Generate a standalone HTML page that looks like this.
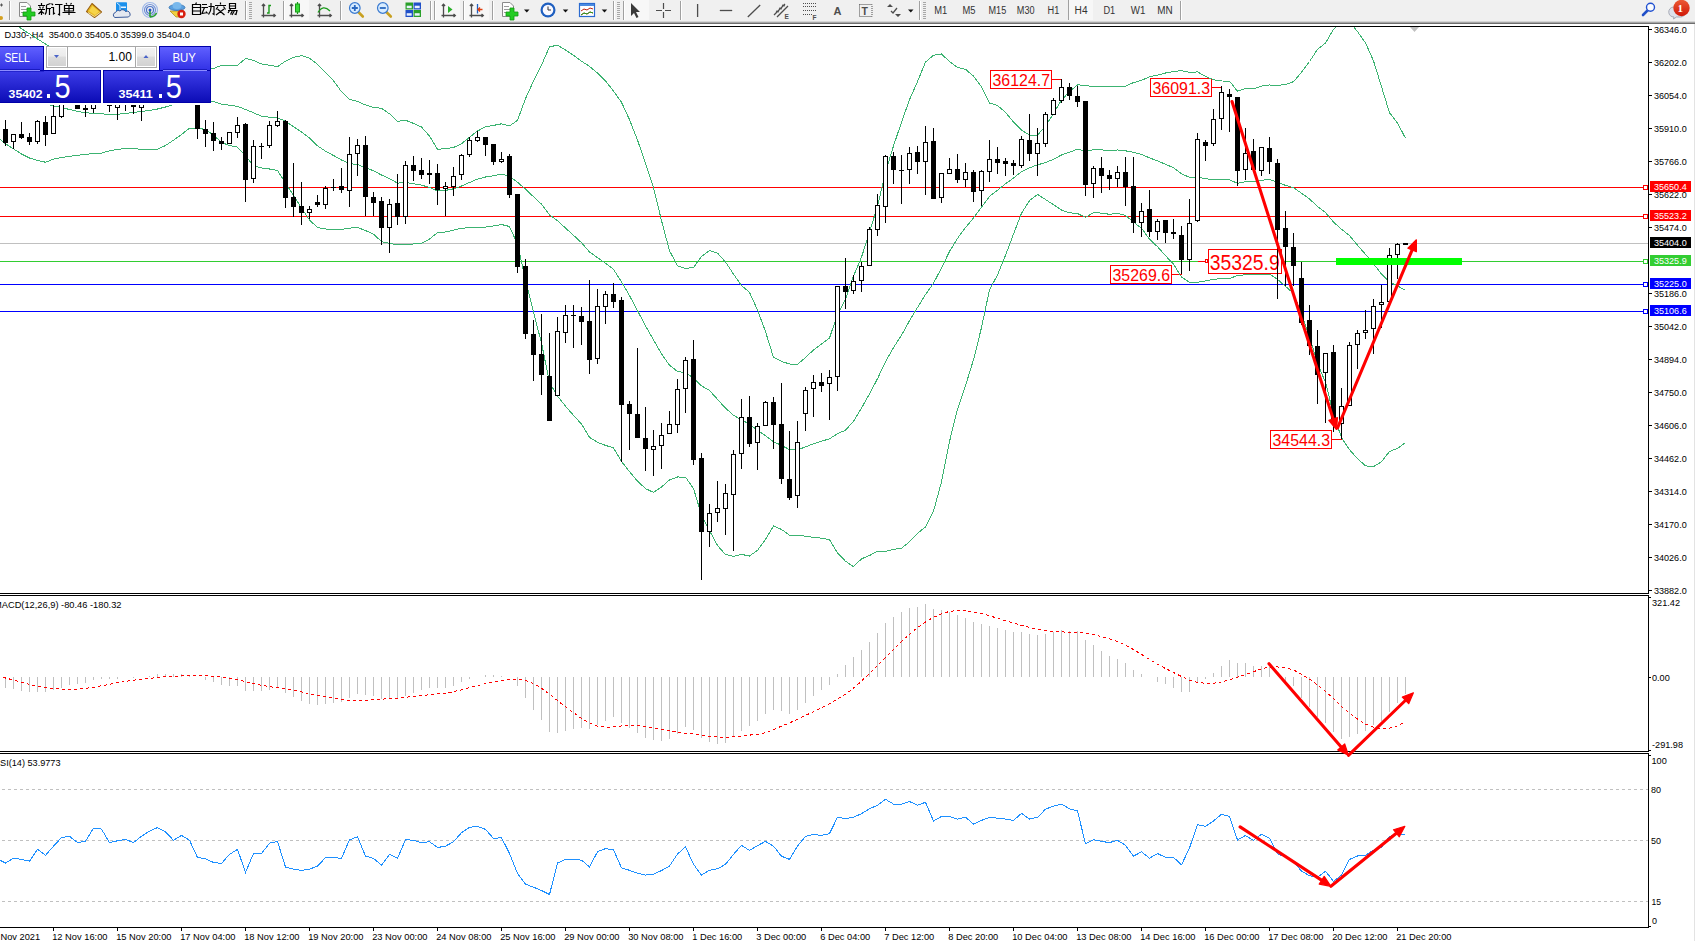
<!DOCTYPE html>
<html><head><meta charset="utf-8"><title>MT4 DJ30 H4</title>
<style>html,body{margin:0;padding:0;background:#fff;overflow:hidden}body{width:1695px;height:941px;position:relative;font-family:"Liberation Sans",sans-serif}</style>
</head><body>
<svg width="1695" height="941" viewBox="0 0 1695 941" style="position:absolute;left:0;top:0">
<defs><clipPath id="cm"><rect x="0" y="27" width="1648" height="566"/></clipPath><clipPath id="cmacd"><rect x="0" y="596" width="1648" height="155"/></clipPath><clipPath id="crsi"><rect x="0" y="755" width="1648" height="172"/></clipPath><linearGradient id="gtb" x1="0" y1="0" x2="0" y2="1"><stop offset="0" stop-color="#c8c8c8"/><stop offset="1" stop-color="#7a7a7a"/></linearGradient></defs>
<rect x="0" y="0" width="1695" height="941" fill="#ffffff"/>
<rect x="0" y="0" width="1695" height="22" fill="#f0f0f0"/>
<rect x="0" y="21" width="1695" height="1" fill="#d6d6d6"/>
<rect x="0" y="22" width="1695" height="1" fill="#a6a6a6"/>
<rect x="0" y="23" width="1695" height="1" fill="#6e6e6e"/>
<rect x="1694" y="24" width="1" height="917" fill="#e3e3e3"/>
<g shape-rendering="crispEdges">
<rect x="0" y="187" width="1648" height="1" fill="#ff0000"/>
<rect x="0" y="216" width="1648" height="1" fill="#ff0000"/>
<rect x="0" y="243" width="1648" height="1" fill="#c0c0c0"/>
<rect x="0" y="261" width="1648" height="1" fill="#32cd32"/>
<rect x="0" y="284" width="1648" height="1" fill="#0000ff"/>
<rect x="0" y="311" width="1648" height="1" fill="#0000ff"/>
</g>
<g>
<rect x="990.5" y="70.5" width="61" height="18" fill="#fff" stroke="#ff0000" stroke-width="1" shape-rendering="crispEdges"/>
<text x="992.5" y="86" font-size="16.5" fill="#ff0000" font-family="Liberation Sans, sans-serif" textLength="57.5" lengthAdjust="spacingAndGlyphs" >36124.7</text>
<rect x="1052" y="79" width="10" height="1" fill="#f00" shape-rendering="crispEdges"/>
<rect x="1150.5" y="78.5" width="61" height="18" fill="#fff" stroke="#ff0000" stroke-width="1" shape-rendering="crispEdges"/>
<text x="1152.5" y="94" font-size="16.5" fill="#ff0000" font-family="Liberation Sans, sans-serif" textLength="57.5" lengthAdjust="spacingAndGlyphs" >36091.3</text>
<rect x="1212" y="87" width="10" height="1" fill="#f00" shape-rendering="crispEdges"/>
<rect x="1110.5" y="265.5" width="61" height="18" fill="#fff" stroke="#ff0000" stroke-width="1" shape-rendering="crispEdges"/>
<text x="1112.5" y="281" font-size="16.5" fill="#ff0000" font-family="Liberation Sans, sans-serif" textLength="57.5" lengthAdjust="spacingAndGlyphs" >35269.6</text>
<rect x="1172" y="274" width="10" height="1" fill="#f00" shape-rendering="crispEdges"/>
<rect x="1270.5" y="430.5" width="61" height="18" fill="#fff" stroke="#ff0000" stroke-width="1" shape-rendering="crispEdges"/>
<text x="1272.5" y="446" font-size="16.5" fill="#ff0000" font-family="Liberation Sans, sans-serif" textLength="57.5" lengthAdjust="spacingAndGlyphs" >34544.3</text>
<rect x="1332" y="439" width="10" height="1" fill="#f00" shape-rendering="crispEdges"/>
<rect x="1208.5" y="249.5" width="73" height="24" fill="#fff" stroke="#ff0000" stroke-width="1" shape-rendering="crispEdges"/>
<text x="1209.7" y="270.2" font-size="22.3" fill="#ff0000" font-family="Liberation Sans, sans-serif" textLength="70" lengthAdjust="spacingAndGlyphs" >35325.9</text>
<rect x="1198" y="261" width="7" height="1" fill="#f00" shape-rendering="crispEdges"/>
<rect x="1205.5" y="259.5" width="2" height="3" fill="#fff" stroke="#f00" stroke-width="1"/>
</g>
<g clip-path="url(#cm)">
<polyline points="-2.5,14.0 5.5,18.5 13.5,23.5 21.5,28.7 29.5,33.9 37.5,39.0 45.5,44.0 53.5,49.5 61.5,50.5 69.5,51.4 77.5,52.4 85.5,53.3 93.5,54.2 101.5,55.2 109.5,56.1 117.5,57.1 125.5,58.0 133.5,59.0 141.5,60.0 149.5,60.9 157.5,61.9 165.5,62.8 173.5,63.8 181.5,64.7 189.5,65.7 197.5,66.6 205.5,67.5 213.5,68.5 221.5,65.3 229.5,65.3 237.5,65.3 245.5,58.5 253.5,60.4 261.5,64.0 269.5,65.3 277.5,66.6 285.5,61.1 293.5,57.3 301.5,55.6 309.5,58.1 317.5,64.3 325.5,72.6 333.5,80.8 341.5,91.7 349.5,99.4 357.5,101.5 365.5,104.9 373.5,107.4 381.5,108.3 389.5,113.8 397.5,121.4 405.5,120.2 413.5,123.4 421.5,127.0 429.5,136.0 437.5,149.3 445.5,148.7 453.5,147.5 461.5,143.7 469.5,137.3 477.5,131.0 485.5,126.9 493.5,125.4 501.5,123.8 509.5,125.9 517.5,120.4 525.5,98.6 533.5,81.0 541.5,65.1 549.5,46.9 557.5,45.1 565.5,50.0 573.5,55.3 581.5,61.2 589.5,66.4 597.5,73.1 605.5,80.9 613.5,91.0 621.5,102.3 629.5,119.6 637.5,140.1 645.5,163.0 653.5,187.6 661.5,220.6 669.5,250.7 677.5,265.8 685.5,268.4 693.5,267.4 701.5,256.6 709.5,250.4 717.5,253.1 725.5,262.0 733.5,274.1 741.5,285.5 749.5,292.3 757.5,309.9 765.5,331.6 773.5,357.4 781.5,361.4 789.5,364.0 797.5,364.3 805.5,357.5 813.5,350.0 821.5,344.1 829.5,338.0 837.5,314.4 845.5,299.3 853.5,276.1 861.5,257.2 869.5,232.2 877.5,206.3 885.5,172.4 893.5,145.9 901.5,122.3 909.5,99.7 917.5,81.6 925.5,62.1 933.5,55.3 941.5,54.0 949.5,61.5 957.5,67.5 965.5,69.3 973.5,76.1 981.5,86.9 989.5,103.0 997.5,105.5 1005.5,112.3 1013.5,122.0 1021.5,130.1 1029.5,135.1 1037.5,135.1 1045.5,125.9 1053.5,113.6 1061.5,100.0 1069.5,91.6 1077.5,84.9 1085.5,85.3 1093.5,86.9 1101.5,86.8 1109.5,86.6 1117.5,86.8 1125.5,86.2 1133.5,82.6 1141.5,80.4 1149.5,76.7 1157.5,75.1 1165.5,73.0 1173.5,71.5 1181.5,70.6 1189.5,72.4 1197.5,71.9 1205.5,76.4 1213.5,79.8 1221.5,81.0 1229.5,81.1 1237.5,91.2 1245.5,88.6 1253.5,88.7 1261.5,86.1 1269.5,85.0 1277.5,85.4 1285.5,84.4 1293.5,81.7 1301.5,72.3 1309.5,61.5 1317.5,49.4 1325.5,43.1 1333.5,29.3 1341.5,21.1 1349.5,21.2 1357.5,31.6 1365.5,42.9 1373.5,60.8 1381.5,86.7 1389.5,112.7 1397.5,123.1 1405.5,138.2" fill="none" stroke="#3cb371" stroke-width="1" shape-rendering="crispEdges"/>
<polyline points="45.5,103.5 53.5,106.0 61.5,107.5 69.5,109.5 77.5,111.3 85.5,112.8 93.5,113.3 101.5,113.5 109.5,115.0 117.5,114.2 125.5,113.5 133.5,112.4 141.5,111.5 149.5,110.5 157.5,109.0 165.5,107.0 173.5,104.5 181.5,103.5 189.5,102.5 197.5,102.0 205.5,101.5 213.5,101.5 221.5,104.1 229.5,105.3 237.5,106.4 245.5,109.5 253.5,112.7 261.5,116.3 269.5,117.2 277.5,118.1 285.5,121.0 293.5,126.8 301.5,131.9 309.5,138.0 317.5,145.9 325.5,151.2 333.5,155.5 341.5,160.0 349.5,163.7 357.5,164.5 365.5,167.7 373.5,170.8 381.5,175.0 389.5,178.6 397.5,183.2 405.5,182.4 413.5,183.7 421.5,185.1 429.5,187.5 437.5,190.9 445.5,190.4 453.5,188.8 461.5,186.0 469.5,182.5 477.5,179.1 485.5,177.0 493.5,175.7 501.5,174.2 509.5,176.2 517.5,182.3 525.5,189.1 533.5,196.7 541.5,204.1 549.5,214.9 557.5,220.6 565.5,228.1 573.5,235.3 581.5,242.7 589.5,251.9 597.5,257.7 605.5,263.2 613.5,269.4 621.5,281.9 629.5,295.6 637.5,310.6 645.5,325.8 653.5,340.0 661.5,353.8 669.5,365.3 677.5,371.4 685.5,372.7 693.5,378.0 701.5,385.8 709.5,390.5 717.5,399.3 725.5,408.2 733.5,415.2 741.5,419.9 749.5,424.2 757.5,430.2 765.5,435.6 773.5,441.7 781.5,445.4 789.5,449.6 797.5,449.8 805.5,446.9 813.5,443.7 821.5,441.2 829.5,438.8 837.5,433.7 845.5,430.2 853.5,421.3 861.5,408.1 869.5,393.8 877.5,378.7 885.5,361.8 893.5,347.6 901.5,335.3 909.5,320.7 917.5,307.5 925.5,294.5 933.5,283.2 941.5,267.9 949.5,251.5 957.5,238.4 965.5,227.5 973.5,218.0 981.5,207.2 989.5,196.4 997.5,190.2 1005.5,183.8 1013.5,178.0 1021.5,171.6 1029.5,167.9 1037.5,164.8 1045.5,162.7 1053.5,159.2 1061.5,155.0 1069.5,152.2 1077.5,149.2 1085.5,151.3 1093.5,149.8 1101.5,149.9 1109.5,150.4 1117.5,150.0 1125.5,150.8 1133.5,152.4 1141.5,154.3 1149.5,157.9 1157.5,160.9 1165.5,164.3 1173.5,167.8 1181.5,173.8 1189.5,177.3 1197.5,177.1 1205.5,178.7 1213.5,179.6 1221.5,179.8 1229.5,179.8 1237.5,183.3 1245.5,181.7 1253.5,181.8 1261.5,180.3 1269.5,179.5 1277.5,182.4 1285.5,185.4 1293.5,187.6 1301.5,193.2 1309.5,198.9 1317.5,206.6 1325.5,212.6 1333.5,222.0 1341.5,229.3 1349.5,235.5 1357.5,245.2 1365.5,254.3 1373.5,263.7 1381.5,274.2 1389.5,282.1 1397.5,285.8 1405.5,290.4" fill="none" stroke="#3cb371" stroke-width="1" shape-rendering="crispEdges"/>
<polyline points="-2.5,137.5 5.5,143.8 13.5,148.8 21.5,154.0 29.5,158.0 37.5,160.5 45.5,162.2 53.5,159.2 61.5,157.5 69.5,156.3 77.5,155.3 85.5,154.3 93.5,153.7 101.5,153.1 109.5,150.8 117.5,149.4 125.5,148.5 133.5,148.6 141.5,149.4 149.5,149.4 157.5,149.4 165.5,145.5 173.5,140.2 181.5,134.5 189.5,128.2 197.5,128.2 205.5,129.5 213.5,135.0 221.5,142.5 229.5,145.5 237.5,147.2 245.5,156.0 253.5,165.5 261.5,168.0 269.5,169.0 277.5,170.5 285.5,183.0 293.5,195.5 301.5,208.0 309.5,220.0 317.5,227.5 325.5,229.0 333.5,229.8 341.5,229.5 349.5,228.1 357.5,227.5 365.5,230.5 373.5,234.1 381.5,241.6 389.5,243.3 397.5,244.9 405.5,244.7 413.5,244.0 421.5,243.1 429.5,239.1 437.5,232.6 445.5,232.0 453.5,230.2 461.5,228.2 469.5,227.7 477.5,227.3 485.5,227.1 493.5,226.0 501.5,224.5 509.5,226.5 517.5,244.1 525.5,279.6 533.5,312.4 541.5,343.0 549.5,382.8 557.5,396.1 565.5,406.2 573.5,415.3 581.5,424.1 589.5,437.4 597.5,442.3 605.5,445.4 613.5,447.8 621.5,461.5 629.5,471.6 637.5,481.1 645.5,488.6 653.5,492.4 661.5,487.0 669.5,479.9 677.5,477.0 685.5,477.1 693.5,488.5 701.5,515.1 709.5,530.6 717.5,545.5 725.5,554.5 733.5,556.3 741.5,554.4 749.5,556.0 757.5,550.4 765.5,539.5 773.5,526.0 781.5,529.4 789.5,535.2 797.5,535.3 805.5,536.2 813.5,537.4 821.5,538.2 829.5,539.6 837.5,553.0 845.5,561.2 853.5,566.6 861.5,558.9 869.5,555.5 877.5,551.1 885.5,551.3 893.5,549.4 901.5,548.3 909.5,541.8 917.5,533.4 925.5,526.9 933.5,511.1 941.5,481.9 949.5,441.5 957.5,409.3 965.5,385.6 973.5,359.8 981.5,327.6 989.5,289.7 997.5,275.0 1005.5,255.3 1013.5,234.1 1021.5,213.2 1029.5,200.6 1037.5,194.4 1045.5,199.5 1053.5,204.7 1061.5,210.0 1069.5,212.8 1077.5,213.5 1085.5,217.4 1093.5,212.7 1101.5,213.1 1109.5,214.3 1117.5,213.3 1125.5,215.4 1133.5,222.1 1141.5,228.2 1149.5,239.2 1157.5,246.7 1165.5,255.7 1173.5,264.1 1181.5,277.1 1189.5,282.2 1197.5,282.2 1205.5,280.9 1213.5,279.3 1221.5,278.6 1229.5,278.6 1237.5,275.4 1245.5,274.8 1253.5,274.8 1261.5,274.6 1269.5,274.1 1277.5,279.3 1285.5,286.4 1293.5,293.4 1301.5,314.1 1309.5,336.3 1317.5,363.8 1325.5,382.1 1333.5,414.7 1341.5,437.6 1349.5,449.7 1357.5,458.7 1365.5,465.8 1373.5,466.7 1381.5,461.7 1389.5,451.5 1397.5,448.4 1405.5,442.5" fill="none" stroke="#3cb371" stroke-width="1" shape-rendering="crispEdges"/>
</g>
<g shape-rendering="crispEdges" clip-path="url(#cm)">
<rect x="5" y="120" width="1" height="26" fill="#000"/>
<rect x="3" y="129" width="5" height="14" fill="#000"/>
<rect x="13" y="134" width="1" height="15" fill="#000"/>
<rect x="11" y="134" width="5" height="8" fill="#000"/>
<rect x="12" y="135" width="3" height="6" fill="#fff"/>
<rect x="21" y="122" width="1" height="17" fill="#000"/>
<rect x="19" y="134" width="5" height="4" fill="#000"/>
<rect x="29" y="133" width="1" height="12" fill="#000"/>
<rect x="27" y="137" width="5" height="5" fill="#000"/>
<rect x="37" y="120" width="1" height="24" fill="#000"/>
<rect x="35" y="121" width="5" height="21" fill="#000"/>
<rect x="36" y="122" width="3" height="19" fill="#fff"/>
<rect x="45" y="116" width="1" height="30" fill="#000"/>
<rect x="43" y="122" width="5" height="13" fill="#000"/>
<rect x="53" y="100" width="1" height="34" fill="#000"/>
<rect x="51" y="116" width="5" height="18" fill="#000"/>
<rect x="52" y="117" width="3" height="16" fill="#fff"/>
<rect x="61" y="98" width="1" height="20" fill="#000"/>
<rect x="59" y="100" width="5" height="17" fill="#000"/>
<rect x="60" y="101" width="3" height="15" fill="#fff"/>
<rect x="77" y="100" width="1" height="9" fill="#000"/>
<rect x="75" y="100" width="5" height="9" fill="#000"/>
<rect x="85" y="100" width="1" height="17" fill="#000"/>
<rect x="83" y="108" width="5" height="2" fill="#000"/>
<rect x="93" y="100" width="1" height="13" fill="#000"/>
<rect x="91" y="100" width="5" height="9" fill="#000"/>
<rect x="92" y="101" width="3" height="7" fill="#fff"/>
<rect x="109" y="100" width="1" height="12" fill="#000"/>
<rect x="107" y="100" width="5" height="6" fill="#000"/>
<rect x="117" y="100" width="1" height="20" fill="#000"/>
<rect x="115" y="100" width="5" height="8" fill="#000"/>
<rect x="116" y="101" width="3" height="6" fill="#fff"/>
<rect x="125" y="100" width="1" height="11" fill="#000"/>
<rect x="123" y="100" width="5" height="4" fill="#000"/>
<rect x="133" y="100" width="1" height="14" fill="#000"/>
<rect x="131" y="100" width="5" height="7" fill="#000"/>
<rect x="141" y="100" width="1" height="21" fill="#000"/>
<rect x="139" y="100" width="5" height="8" fill="#000"/>
<rect x="140" y="101" width="3" height="6" fill="#fff"/>
<rect x="197" y="100" width="1" height="39" fill="#000"/>
<rect x="195" y="100" width="5" height="29" fill="#000"/>
<rect x="205" y="120" width="1" height="27" fill="#000"/>
<rect x="203" y="129" width="5" height="5" fill="#000"/>
<rect x="213" y="122" width="1" height="29" fill="#000"/>
<rect x="211" y="133" width="5" height="8" fill="#000"/>
<rect x="221" y="137" width="1" height="13" fill="#000"/>
<rect x="219" y="141" width="5" height="3" fill="#000"/>
<rect x="229" y="132" width="1" height="12" fill="#000"/>
<rect x="227" y="132" width="5" height="12" fill="#000"/>
<rect x="228" y="133" width="3" height="10" fill="#fff"/>
<rect x="237" y="117" width="1" height="21" fill="#000"/>
<rect x="235" y="125" width="5" height="8" fill="#000"/>
<rect x="236" y="126" width="3" height="6" fill="#fff"/>
<rect x="245" y="123" width="1" height="79" fill="#000"/>
<rect x="243" y="124" width="5" height="56" fill="#000"/>
<rect x="253" y="140" width="1" height="43" fill="#000"/>
<rect x="251" y="146" width="5" height="33" fill="#000"/>
<rect x="252" y="147" width="3" height="31" fill="#fff"/>
<rect x="261" y="143" width="1" height="16" fill="#000"/>
<rect x="259" y="146" width="5" height="1" fill="#000"/>
<rect x="269" y="121" width="1" height="27" fill="#000"/>
<rect x="267" y="125" width="5" height="21" fill="#000"/>
<rect x="268" y="126" width="3" height="19" fill="#fff"/>
<rect x="277" y="111" width="1" height="16" fill="#000"/>
<rect x="275" y="121" width="5" height="5" fill="#000"/>
<rect x="276" y="122" width="3" height="3" fill="#fff"/>
<rect x="285" y="120" width="1" height="88" fill="#000"/>
<rect x="283" y="121" width="5" height="77" fill="#000"/>
<rect x="293" y="163" width="1" height="54" fill="#000"/>
<rect x="291" y="197" width="5" height="10" fill="#000"/>
<rect x="301" y="182" width="1" height="43" fill="#000"/>
<rect x="299" y="206" width="5" height="7" fill="#000"/>
<rect x="309" y="206" width="1" height="13" fill="#000"/>
<rect x="307" y="209" width="5" height="4" fill="#000"/>
<rect x="308" y="210" width="3" height="2" fill="#fff"/>
<rect x="317" y="195" width="1" height="12" fill="#000"/>
<rect x="315" y="202" width="5" height="3" fill="#000"/>
<rect x="325" y="186" width="1" height="23" fill="#000"/>
<rect x="323" y="188" width="5" height="17" fill="#000"/>
<rect x="324" y="189" width="3" height="15" fill="#fff"/>
<rect x="333" y="179" width="1" height="12" fill="#000"/>
<rect x="331" y="187" width="5" height="1" fill="#000"/>
<rect x="341" y="168" width="1" height="25" fill="#000"/>
<rect x="339" y="186" width="5" height="4" fill="#000"/>
<rect x="349" y="137" width="1" height="70" fill="#000"/>
<rect x="347" y="154" width="5" height="37" fill="#000"/>
<rect x="348" y="155" width="3" height="35" fill="#fff"/>
<rect x="357" y="139" width="1" height="37" fill="#000"/>
<rect x="355" y="145" width="5" height="9" fill="#000"/>
<rect x="356" y="146" width="3" height="7" fill="#fff"/>
<rect x="365" y="136" width="1" height="80" fill="#000"/>
<rect x="363" y="145" width="5" height="52" fill="#000"/>
<rect x="373" y="192" width="1" height="24" fill="#000"/>
<rect x="371" y="197" width="5" height="6" fill="#000"/>
<rect x="381" y="197" width="1" height="48" fill="#000"/>
<rect x="379" y="201" width="5" height="27" fill="#000"/>
<rect x="389" y="199" width="1" height="54" fill="#000"/>
<rect x="387" y="204" width="5" height="24" fill="#000"/>
<rect x="388" y="205" width="3" height="22" fill="#fff"/>
<rect x="397" y="174" width="1" height="51" fill="#000"/>
<rect x="395" y="203" width="5" height="14" fill="#000"/>
<rect x="405" y="161" width="1" height="63" fill="#000"/>
<rect x="403" y="165" width="5" height="52" fill="#000"/>
<rect x="404" y="166" width="3" height="50" fill="#fff"/>
<rect x="413" y="156" width="1" height="25" fill="#000"/>
<rect x="411" y="165" width="5" height="6" fill="#000"/>
<rect x="421" y="158" width="1" height="21" fill="#000"/>
<rect x="419" y="170" width="5" height="5" fill="#000"/>
<rect x="429" y="160" width="1" height="24" fill="#000"/>
<rect x="427" y="173" width="5" height="2" fill="#000"/>
<rect x="437" y="164" width="1" height="41" fill="#000"/>
<rect x="435" y="173" width="5" height="17" fill="#000"/>
<rect x="445" y="182" width="1" height="34" fill="#000"/>
<rect x="443" y="186" width="5" height="3" fill="#000"/>
<rect x="444" y="187" width="3" height="1" fill="#fff"/>
<rect x="453" y="167" width="1" height="29" fill="#000"/>
<rect x="451" y="176" width="5" height="11" fill="#000"/>
<rect x="452" y="177" width="3" height="9" fill="#fff"/>
<rect x="461" y="154" width="1" height="26" fill="#000"/>
<rect x="459" y="155" width="5" height="20" fill="#000"/>
<rect x="460" y="156" width="3" height="18" fill="#fff"/>
<rect x="469" y="137" width="1" height="20" fill="#000"/>
<rect x="467" y="140" width="5" height="15" fill="#000"/>
<rect x="468" y="141" width="3" height="13" fill="#fff"/>
<rect x="477" y="131" width="1" height="11" fill="#000"/>
<rect x="475" y="137" width="5" height="4" fill="#000"/>
<rect x="476" y="138" width="3" height="2" fill="#fff"/>
<rect x="485" y="137" width="1" height="19" fill="#000"/>
<rect x="483" y="137" width="5" height="8" fill="#000"/>
<rect x="493" y="144" width="1" height="21" fill="#000"/>
<rect x="491" y="144" width="5" height="18" fill="#000"/>
<rect x="501" y="152" width="1" height="11" fill="#000"/>
<rect x="499" y="159" width="5" height="3" fill="#000"/>
<rect x="500" y="160" width="3" height="1" fill="#fff"/>
<rect x="509" y="154" width="1" height="44" fill="#000"/>
<rect x="507" y="156" width="5" height="39" fill="#000"/>
<rect x="517" y="194" width="1" height="79" fill="#000"/>
<rect x="515" y="194" width="5" height="73" fill="#000"/>
<rect x="525" y="259" width="1" height="80" fill="#000"/>
<rect x="523" y="266" width="5" height="68" fill="#000"/>
<rect x="533" y="320" width="1" height="61" fill="#000"/>
<rect x="531" y="334" width="5" height="21" fill="#000"/>
<rect x="541" y="314" width="1" height="81" fill="#000"/>
<rect x="539" y="354" width="5" height="21" fill="#000"/>
<rect x="549" y="333" width="1" height="88" fill="#000"/>
<rect x="547" y="376" width="5" height="45" fill="#000"/>
<rect x="557" y="317" width="1" height="79" fill="#000"/>
<rect x="555" y="331" width="5" height="65" fill="#000"/>
<rect x="556" y="332" width="3" height="63" fill="#fff"/>
<rect x="565" y="305" width="1" height="38" fill="#000"/>
<rect x="563" y="315" width="5" height="18" fill="#000"/>
<rect x="564" y="316" width="3" height="16" fill="#fff"/>
<rect x="573" y="305" width="1" height="43" fill="#000"/>
<rect x="571" y="315" width="5" height="1" fill="#000"/>
<rect x="581" y="307" width="1" height="38" fill="#000"/>
<rect x="579" y="316" width="5" height="6" fill="#000"/>
<rect x="589" y="280" width="1" height="94" fill="#000"/>
<rect x="587" y="321" width="5" height="39" fill="#000"/>
<rect x="597" y="289" width="1" height="75" fill="#000"/>
<rect x="595" y="306" width="5" height="53" fill="#000"/>
<rect x="596" y="307" width="3" height="51" fill="#fff"/>
<rect x="605" y="291" width="1" height="33" fill="#000"/>
<rect x="603" y="294" width="5" height="13" fill="#000"/>
<rect x="604" y="295" width="3" height="11" fill="#fff"/>
<rect x="613" y="283" width="1" height="25" fill="#000"/>
<rect x="611" y="294" width="5" height="8" fill="#000"/>
<rect x="621" y="297" width="1" height="165" fill="#000"/>
<rect x="619" y="300" width="5" height="105" fill="#000"/>
<rect x="629" y="401" width="1" height="49" fill="#000"/>
<rect x="627" y="404" width="5" height="10" fill="#000"/>
<rect x="637" y="348" width="1" height="90" fill="#000"/>
<rect x="635" y="414" width="5" height="24" fill="#000"/>
<rect x="645" y="407" width="1" height="64" fill="#000"/>
<rect x="643" y="438" width="5" height="11" fill="#000"/>
<rect x="653" y="430" width="1" height="46" fill="#000"/>
<rect x="651" y="446" width="5" height="4" fill="#000"/>
<rect x="652" y="447" width="3" height="2" fill="#fff"/>
<rect x="661" y="423" width="1" height="46" fill="#000"/>
<rect x="659" y="435" width="5" height="11" fill="#000"/>
<rect x="660" y="436" width="3" height="9" fill="#fff"/>
<rect x="669" y="411" width="1" height="23" fill="#000"/>
<rect x="667" y="424" width="5" height="10" fill="#000"/>
<rect x="668" y="425" width="3" height="8" fill="#fff"/>
<rect x="677" y="379" width="1" height="54" fill="#000"/>
<rect x="675" y="389" width="5" height="36" fill="#000"/>
<rect x="676" y="390" width="3" height="34" fill="#fff"/>
<rect x="685" y="357" width="1" height="56" fill="#000"/>
<rect x="683" y="360" width="5" height="29" fill="#000"/>
<rect x="684" y="361" width="3" height="27" fill="#fff"/>
<rect x="693" y="340" width="1" height="125" fill="#000"/>
<rect x="691" y="359" width="5" height="101" fill="#000"/>
<rect x="701" y="453" width="1" height="127" fill="#000"/>
<rect x="699" y="458" width="5" height="74" fill="#000"/>
<rect x="709" y="504" width="1" height="43" fill="#000"/>
<rect x="707" y="513" width="5" height="19" fill="#000"/>
<rect x="708" y="514" width="3" height="17" fill="#fff"/>
<rect x="717" y="481" width="1" height="41" fill="#000"/>
<rect x="715" y="508" width="5" height="5" fill="#000"/>
<rect x="716" y="509" width="3" height="3" fill="#fff"/>
<rect x="725" y="484" width="1" height="51" fill="#000"/>
<rect x="723" y="493" width="5" height="16" fill="#000"/>
<rect x="724" y="494" width="3" height="14" fill="#fff"/>
<rect x="733" y="450" width="1" height="101" fill="#000"/>
<rect x="731" y="454" width="5" height="41" fill="#000"/>
<rect x="732" y="455" width="3" height="39" fill="#fff"/>
<rect x="741" y="399" width="1" height="70" fill="#000"/>
<rect x="739" y="417" width="5" height="37" fill="#000"/>
<rect x="740" y="418" width="3" height="35" fill="#fff"/>
<rect x="749" y="396" width="1" height="51" fill="#000"/>
<rect x="747" y="417" width="5" height="27" fill="#000"/>
<rect x="757" y="423" width="1" height="47" fill="#000"/>
<rect x="755" y="426" width="5" height="17" fill="#000"/>
<rect x="756" y="427" width="3" height="15" fill="#fff"/>
<rect x="765" y="401" width="1" height="25" fill="#000"/>
<rect x="763" y="402" width="5" height="24" fill="#000"/>
<rect x="764" y="403" width="3" height="22" fill="#fff"/>
<rect x="773" y="397" width="1" height="52" fill="#000"/>
<rect x="771" y="402" width="5" height="23" fill="#000"/>
<rect x="781" y="383" width="1" height="101" fill="#000"/>
<rect x="779" y="424" width="5" height="55" fill="#000"/>
<rect x="789" y="431" width="1" height="69" fill="#000"/>
<rect x="787" y="479" width="5" height="19" fill="#000"/>
<rect x="797" y="421" width="1" height="87" fill="#000"/>
<rect x="795" y="442" width="5" height="54" fill="#000"/>
<rect x="796" y="443" width="3" height="52" fill="#fff"/>
<rect x="805" y="387" width="1" height="44" fill="#000"/>
<rect x="803" y="390" width="5" height="24" fill="#000"/>
<rect x="804" y="391" width="3" height="22" fill="#fff"/>
<rect x="813" y="375" width="1" height="42" fill="#000"/>
<rect x="811" y="382" width="5" height="7" fill="#000"/>
<rect x="812" y="383" width="3" height="5" fill="#fff"/>
<rect x="821" y="373" width="1" height="19" fill="#000"/>
<rect x="819" y="382" width="5" height="4" fill="#000"/>
<rect x="829" y="370" width="1" height="50" fill="#000"/>
<rect x="827" y="377" width="5" height="7" fill="#000"/>
<rect x="828" y="378" width="3" height="5" fill="#fff"/>
<rect x="837" y="286" width="1" height="105" fill="#000"/>
<rect x="835" y="286" width="5" height="91" fill="#000"/>
<rect x="836" y="287" width="3" height="89" fill="#fff"/>
<rect x="845" y="258" width="1" height="51" fill="#000"/>
<rect x="843" y="286" width="5" height="6" fill="#000"/>
<rect x="853" y="275" width="1" height="19" fill="#000"/>
<rect x="851" y="281" width="5" height="10" fill="#000"/>
<rect x="852" y="282" width="3" height="8" fill="#fff"/>
<rect x="861" y="262" width="1" height="30" fill="#000"/>
<rect x="859" y="266" width="5" height="15" fill="#000"/>
<rect x="860" y="267" width="3" height="13" fill="#fff"/>
<rect x="869" y="227" width="1" height="39" fill="#000"/>
<rect x="867" y="229" width="5" height="37" fill="#000"/>
<rect x="868" y="230" width="3" height="35" fill="#fff"/>
<rect x="877" y="194" width="1" height="42" fill="#000"/>
<rect x="875" y="205" width="5" height="25" fill="#000"/>
<rect x="876" y="206" width="3" height="23" fill="#fff"/>
<rect x="885" y="155" width="1" height="68" fill="#000"/>
<rect x="883" y="156" width="5" height="51" fill="#000"/>
<rect x="884" y="157" width="3" height="49" fill="#fff"/>
<rect x="893" y="152" width="1" height="32" fill="#000"/>
<rect x="891" y="156" width="5" height="14" fill="#000"/>
<rect x="901" y="155" width="1" height="49" fill="#000"/>
<rect x="899" y="170" width="5" height="1" fill="#000"/>
<rect x="909" y="147" width="1" height="37" fill="#000"/>
<rect x="907" y="153" width="5" height="17" fill="#000"/>
<rect x="908" y="154" width="3" height="15" fill="#fff"/>
<rect x="917" y="146" width="1" height="28" fill="#000"/>
<rect x="915" y="152" width="5" height="10" fill="#000"/>
<rect x="925" y="126" width="1" height="69" fill="#000"/>
<rect x="923" y="142" width="5" height="20" fill="#000"/>
<rect x="924" y="143" width="3" height="18" fill="#fff"/>
<rect x="933" y="128" width="1" height="71" fill="#000"/>
<rect x="931" y="141" width="5" height="58" fill="#000"/>
<rect x="941" y="173" width="1" height="30" fill="#000"/>
<rect x="939" y="173" width="5" height="25" fill="#000"/>
<rect x="940" y="174" width="3" height="23" fill="#fff"/>
<rect x="949" y="158" width="1" height="16" fill="#000"/>
<rect x="947" y="169" width="5" height="5" fill="#000"/>
<rect x="948" y="170" width="3" height="3" fill="#fff"/>
<rect x="957" y="154" width="1" height="29" fill="#000"/>
<rect x="955" y="169" width="5" height="11" fill="#000"/>
<rect x="965" y="163" width="1" height="24" fill="#000"/>
<rect x="963" y="172" width="5" height="8" fill="#000"/>
<rect x="964" y="173" width="3" height="6" fill="#fff"/>
<rect x="973" y="170" width="1" height="32" fill="#000"/>
<rect x="971" y="172" width="5" height="20" fill="#000"/>
<rect x="981" y="170" width="1" height="36" fill="#000"/>
<rect x="979" y="171" width="5" height="20" fill="#000"/>
<rect x="980" y="172" width="3" height="18" fill="#fff"/>
<rect x="989" y="140" width="1" height="42" fill="#000"/>
<rect x="987" y="159" width="5" height="13" fill="#000"/>
<rect x="988" y="160" width="3" height="11" fill="#fff"/>
<rect x="997" y="147" width="1" height="27" fill="#000"/>
<rect x="995" y="159" width="5" height="4" fill="#000"/>
<rect x="1005" y="158" width="1" height="18" fill="#000"/>
<rect x="1003" y="161" width="5" height="3" fill="#000"/>
<rect x="1013" y="160" width="1" height="15" fill="#000"/>
<rect x="1011" y="163" width="5" height="3" fill="#000"/>
<rect x="1021" y="136" width="1" height="32" fill="#000"/>
<rect x="1019" y="139" width="5" height="27" fill="#000"/>
<rect x="1020" y="140" width="3" height="25" fill="#fff"/>
<rect x="1029" y="114" width="1" height="47" fill="#000"/>
<rect x="1027" y="140" width="5" height="14" fill="#000"/>
<rect x="1037" y="128" width="1" height="48" fill="#000"/>
<rect x="1035" y="143" width="5" height="11" fill="#000"/>
<rect x="1036" y="144" width="3" height="9" fill="#fff"/>
<rect x="1045" y="112" width="1" height="35" fill="#000"/>
<rect x="1043" y="114" width="5" height="30" fill="#000"/>
<rect x="1044" y="115" width="3" height="28" fill="#fff"/>
<rect x="1053" y="98" width="1" height="17" fill="#000"/>
<rect x="1051" y="100" width="5" height="15" fill="#000"/>
<rect x="1052" y="101" width="3" height="13" fill="#fff"/>
<rect x="1061" y="79" width="1" height="24" fill="#000"/>
<rect x="1059" y="87" width="5" height="14" fill="#000"/>
<rect x="1060" y="88" width="3" height="12" fill="#fff"/>
<rect x="1069" y="83" width="1" height="17" fill="#000"/>
<rect x="1067" y="87" width="5" height="9" fill="#000"/>
<rect x="1077" y="86" width="1" height="21" fill="#000"/>
<rect x="1075" y="96" width="5" height="6" fill="#000"/>
<rect x="1085" y="101" width="1" height="95" fill="#000"/>
<rect x="1083" y="101" width="5" height="84" fill="#000"/>
<rect x="1093" y="166" width="1" height="32" fill="#000"/>
<rect x="1091" y="168" width="5" height="16" fill="#000"/>
<rect x="1092" y="169" width="3" height="14" fill="#fff"/>
<rect x="1101" y="157" width="1" height="36" fill="#000"/>
<rect x="1099" y="168" width="5" height="8" fill="#000"/>
<rect x="1109" y="170" width="1" height="20" fill="#000"/>
<rect x="1107" y="175" width="5" height="4" fill="#000"/>
<rect x="1117" y="166" width="1" height="21" fill="#000"/>
<rect x="1115" y="172" width="5" height="7" fill="#000"/>
<rect x="1116" y="173" width="3" height="5" fill="#fff"/>
<rect x="1125" y="157" width="1" height="49" fill="#000"/>
<rect x="1123" y="172" width="5" height="15" fill="#000"/>
<rect x="1133" y="157" width="1" height="76" fill="#000"/>
<rect x="1131" y="186" width="5" height="37" fill="#000"/>
<rect x="1141" y="203" width="1" height="34" fill="#000"/>
<rect x="1139" y="211" width="5" height="12" fill="#000"/>
<rect x="1140" y="212" width="3" height="10" fill="#fff"/>
<rect x="1149" y="190" width="1" height="47" fill="#000"/>
<rect x="1147" y="209" width="5" height="23" fill="#000"/>
<rect x="1157" y="219" width="1" height="21" fill="#000"/>
<rect x="1155" y="221" width="5" height="11" fill="#000"/>
<rect x="1156" y="222" width="3" height="9" fill="#fff"/>
<rect x="1165" y="220" width="1" height="23" fill="#000"/>
<rect x="1163" y="220" width="5" height="13" fill="#000"/>
<rect x="1173" y="219" width="1" height="20" fill="#000"/>
<rect x="1171" y="232" width="5" height="2" fill="#000"/>
<rect x="1181" y="226" width="1" height="48" fill="#000"/>
<rect x="1179" y="235" width="5" height="25" fill="#000"/>
<rect x="1189" y="199" width="1" height="72" fill="#000"/>
<rect x="1187" y="223" width="5" height="37" fill="#000"/>
<rect x="1188" y="224" width="3" height="35" fill="#fff"/>
<rect x="1197" y="133" width="1" height="89" fill="#000"/>
<rect x="1195" y="139" width="5" height="82" fill="#000"/>
<rect x="1196" y="140" width="3" height="80" fill="#fff"/>
<rect x="1205" y="140" width="1" height="21" fill="#000"/>
<rect x="1203" y="142" width="5" height="4" fill="#000"/>
<rect x="1213" y="109" width="1" height="37" fill="#000"/>
<rect x="1211" y="119" width="5" height="25" fill="#000"/>
<rect x="1212" y="120" width="3" height="23" fill="#fff"/>
<rect x="1221" y="86" width="1" height="44" fill="#000"/>
<rect x="1219" y="92" width="5" height="27" fill="#000"/>
<rect x="1220" y="93" width="3" height="25" fill="#fff"/>
<rect x="1229" y="89" width="1" height="43" fill="#000"/>
<rect x="1227" y="94" width="5" height="3" fill="#000"/>
<rect x="1237" y="97" width="1" height="89" fill="#000"/>
<rect x="1235" y="97" width="5" height="74" fill="#000"/>
<rect x="1245" y="128" width="1" height="52" fill="#000"/>
<rect x="1243" y="153" width="5" height="17" fill="#000"/>
<rect x="1244" y="154" width="3" height="15" fill="#fff"/>
<rect x="1253" y="139" width="1" height="31" fill="#000"/>
<rect x="1251" y="151" width="5" height="19" fill="#000"/>
<rect x="1261" y="147" width="1" height="29" fill="#000"/>
<rect x="1259" y="147" width="5" height="24" fill="#000"/>
<rect x="1260" y="148" width="3" height="22" fill="#fff"/>
<rect x="1269" y="137" width="1" height="37" fill="#000"/>
<rect x="1267" y="148" width="5" height="14" fill="#000"/>
<rect x="1277" y="159" width="1" height="140" fill="#000"/>
<rect x="1275" y="163" width="5" height="67" fill="#000"/>
<rect x="1285" y="211" width="1" height="75" fill="#000"/>
<rect x="1283" y="228" width="5" height="19" fill="#000"/>
<rect x="1293" y="233" width="1" height="53" fill="#000"/>
<rect x="1291" y="247" width="5" height="19" fill="#000"/>
<rect x="1301" y="262" width="1" height="63" fill="#000"/>
<rect x="1299" y="278" width="5" height="45" fill="#000"/>
<rect x="1309" y="305" width="1" height="50" fill="#000"/>
<rect x="1307" y="320" width="5" height="26" fill="#000"/>
<rect x="1317" y="330" width="1" height="74" fill="#000"/>
<rect x="1315" y="346" width="5" height="29" fill="#000"/>
<rect x="1325" y="353" width="1" height="70" fill="#000"/>
<rect x="1323" y="353" width="5" height="20" fill="#000"/>
<rect x="1324" y="354" width="3" height="18" fill="#fff"/>
<rect x="1333" y="345" width="1" height="87" fill="#000"/>
<rect x="1331" y="352" width="5" height="71" fill="#000"/>
<rect x="1341" y="388" width="1" height="51" fill="#000"/>
<rect x="1339" y="406" width="5" height="18" fill="#000"/>
<rect x="1340" y="407" width="3" height="16" fill="#fff"/>
<rect x="1349" y="342" width="1" height="64" fill="#000"/>
<rect x="1347" y="345" width="5" height="61" fill="#000"/>
<rect x="1348" y="346" width="3" height="59" fill="#fff"/>
<rect x="1357" y="330" width="1" height="39" fill="#000"/>
<rect x="1355" y="333" width="5" height="12" fill="#000"/>
<rect x="1356" y="334" width="3" height="10" fill="#fff"/>
<rect x="1365" y="310" width="1" height="29" fill="#000"/>
<rect x="1363" y="330" width="5" height="3" fill="#000"/>
<rect x="1364" y="331" width="3" height="1" fill="#fff"/>
<rect x="1373" y="299" width="1" height="55" fill="#000"/>
<rect x="1371" y="306" width="5" height="23" fill="#000"/>
<rect x="1372" y="307" width="3" height="21" fill="#fff"/>
<rect x="1381" y="285" width="1" height="43" fill="#000"/>
<rect x="1379" y="302" width="5" height="3" fill="#000"/>
<rect x="1380" y="303" width="3" height="1" fill="#fff"/>
<rect x="1389" y="248" width="1" height="54" fill="#000"/>
<rect x="1387" y="255" width="5" height="47" fill="#000"/>
<rect x="1388" y="256" width="3" height="45" fill="#fff"/>
<rect x="1397" y="243" width="1" height="36" fill="#000"/>
<rect x="1395" y="244" width="5" height="11" fill="#000"/>
<rect x="1396" y="245" width="3" height="9" fill="#fff"/>
<rect x="1405" y="243" width="1" height="2" fill="#000"/>
<rect x="1403" y="243" width="5" height="2" fill="#000"/>
</g>
<g shape-rendering="crispEdges" clip-path="url(#cmacd)">
<rect x="5" y="677" width="1" height="11" fill="#c0c0c0"/>
<rect x="13" y="677" width="1" height="12" fill="#c0c0c0"/>
<rect x="21" y="677" width="1" height="14" fill="#c0c0c0"/>
<rect x="29" y="677" width="1" height="15" fill="#c0c0c0"/>
<rect x="37" y="677" width="1" height="15" fill="#c0c0c0"/>
<rect x="45" y="677" width="1" height="15" fill="#c0c0c0"/>
<rect x="53" y="677" width="1" height="13" fill="#c0c0c0"/>
<rect x="61" y="677" width="1" height="11" fill="#c0c0c0"/>
<rect x="69" y="677" width="1" height="8" fill="#c0c0c0"/>
<rect x="77" y="677" width="1" height="7" fill="#c0c0c0"/>
<rect x="85" y="677" width="1" height="6" fill="#c0c0c0"/>
<rect x="93" y="677" width="1" height="3" fill="#c0c0c0"/>
<rect x="101" y="677" width="1" height="2" fill="#c0c0c0"/>
<rect x="109" y="677" width="1" height="2" fill="#c0c0c0"/>
<rect x="117" y="677" width="1" height="2" fill="#c0c0c0"/>
<rect x="133" y="677" width="1" height="1" fill="#c0c0c0"/>
<rect x="149" y="676" width="1" height="1" fill="#c0c0c0"/>
<rect x="157" y="674" width="1" height="3" fill="#c0c0c0"/>
<rect x="165" y="674" width="1" height="3" fill="#c0c0c0"/>
<rect x="173" y="674" width="1" height="3" fill="#c0c0c0"/>
<rect x="181" y="674" width="1" height="3" fill="#c0c0c0"/>
<rect x="189" y="675" width="1" height="2" fill="#c0c0c0"/>
<rect x="205" y="677" width="1" height="3" fill="#c0c0c0"/>
<rect x="213" y="677" width="1" height="5" fill="#c0c0c0"/>
<rect x="221" y="677" width="1" height="8" fill="#c0c0c0"/>
<rect x="229" y="677" width="1" height="9" fill="#c0c0c0"/>
<rect x="237" y="677" width="1" height="9" fill="#c0c0c0"/>
<rect x="245" y="677" width="1" height="14" fill="#c0c0c0"/>
<rect x="253" y="677" width="1" height="14" fill="#c0c0c0"/>
<rect x="261" y="677" width="1" height="14" fill="#c0c0c0"/>
<rect x="269" y="677" width="1" height="13" fill="#c0c0c0"/>
<rect x="277" y="677" width="1" height="11" fill="#c0c0c0"/>
<rect x="285" y="677" width="1" height="16" fill="#c0c0c0"/>
<rect x="293" y="677" width="1" height="20" fill="#c0c0c0"/>
<rect x="301" y="677" width="1" height="24" fill="#c0c0c0"/>
<rect x="309" y="677" width="1" height="27" fill="#c0c0c0"/>
<rect x="317" y="677" width="1" height="28" fill="#c0c0c0"/>
<rect x="325" y="677" width="1" height="27" fill="#c0c0c0"/>
<rect x="333" y="677" width="1" height="26" fill="#c0c0c0"/>
<rect x="341" y="677" width="1" height="25" fill="#c0c0c0"/>
<rect x="349" y="677" width="1" height="21" fill="#c0c0c0"/>
<rect x="357" y="677" width="1" height="17" fill="#c0c0c0"/>
<rect x="365" y="677" width="1" height="18" fill="#c0c0c0"/>
<rect x="373" y="677" width="1" height="19" fill="#c0c0c0"/>
<rect x="381" y="677" width="1" height="22" fill="#c0c0c0"/>
<rect x="389" y="677" width="1" height="22" fill="#c0c0c0"/>
<rect x="397" y="677" width="1" height="22" fill="#c0c0c0"/>
<rect x="405" y="677" width="1" height="19" fill="#c0c0c0"/>
<rect x="413" y="677" width="1" height="16" fill="#c0c0c0"/>
<rect x="421" y="677" width="1" height="13" fill="#c0c0c0"/>
<rect x="429" y="677" width="1" height="11" fill="#c0c0c0"/>
<rect x="437" y="677" width="1" height="11" fill="#c0c0c0"/>
<rect x="445" y="677" width="1" height="11" fill="#c0c0c0"/>
<rect x="453" y="677" width="1" height="9" fill="#c0c0c0"/>
<rect x="461" y="677" width="1" height="5" fill="#c0c0c0"/>
<rect x="469" y="677" width="1" height="2" fill="#c0c0c0"/>
<rect x="485" y="675" width="1" height="2" fill="#c0c0c0"/>
<rect x="493" y="675" width="1" height="2" fill="#c0c0c0"/>
<rect x="501" y="676" width="1" height="1" fill="#c0c0c0"/>
<rect x="517" y="677" width="1" height="9" fill="#c0c0c0"/>
<rect x="525" y="677" width="1" height="21" fill="#c0c0c0"/>
<rect x="533" y="677" width="1" height="33" fill="#c0c0c0"/>
<rect x="541" y="677" width="1" height="43" fill="#c0c0c0"/>
<rect x="549" y="677" width="1" height="55" fill="#c0c0c0"/>
<rect x="557" y="677" width="1" height="56" fill="#c0c0c0"/>
<rect x="565" y="677" width="1" height="54" fill="#c0c0c0"/>
<rect x="573" y="677" width="1" height="52" fill="#c0c0c0"/>
<rect x="581" y="677" width="1" height="51" fill="#c0c0c0"/>
<rect x="589" y="677" width="1" height="52" fill="#c0c0c0"/>
<rect x="597" y="677" width="1" height="48" fill="#c0c0c0"/>
<rect x="605" y="677" width="1" height="44" fill="#c0c0c0"/>
<rect x="613" y="677" width="1" height="40" fill="#c0c0c0"/>
<rect x="621" y="677" width="1" height="46" fill="#c0c0c0"/>
<rect x="629" y="677" width="1" height="51" fill="#c0c0c0"/>
<rect x="637" y="677" width="1" height="56" fill="#c0c0c0"/>
<rect x="645" y="677" width="1" height="61" fill="#c0c0c0"/>
<rect x="653" y="677" width="1" height="63" fill="#c0c0c0"/>
<rect x="661" y="677" width="1" height="64" fill="#c0c0c0"/>
<rect x="669" y="677" width="1" height="62" fill="#c0c0c0"/>
<rect x="677" y="677" width="1" height="57" fill="#c0c0c0"/>
<rect x="685" y="677" width="1" height="50" fill="#c0c0c0"/>
<rect x="693" y="677" width="1" height="53" fill="#c0c0c0"/>
<rect x="701" y="677" width="1" height="61" fill="#c0c0c0"/>
<rect x="709" y="677" width="1" height="65" fill="#c0c0c0"/>
<rect x="717" y="677" width="1" height="67" fill="#c0c0c0"/>
<rect x="725" y="677" width="1" height="66" fill="#c0c0c0"/>
<rect x="733" y="677" width="1" height="60" fill="#c0c0c0"/>
<rect x="741" y="677" width="1" height="54" fill="#c0c0c0"/>
<rect x="749" y="677" width="1" height="49" fill="#c0c0c0"/>
<rect x="757" y="677" width="1" height="44" fill="#c0c0c0"/>
<rect x="765" y="677" width="1" height="37" fill="#c0c0c0"/>
<rect x="773" y="677" width="1" height="33" fill="#c0c0c0"/>
<rect x="781" y="677" width="1" height="34" fill="#c0c0c0"/>
<rect x="789" y="677" width="1" height="37" fill="#c0c0c0"/>
<rect x="797" y="677" width="1" height="33" fill="#c0c0c0"/>
<rect x="805" y="677" width="1" height="26" fill="#c0c0c0"/>
<rect x="813" y="677" width="1" height="19" fill="#c0c0c0"/>
<rect x="821" y="677" width="1" height="13" fill="#c0c0c0"/>
<rect x="829" y="677" width="1" height="8" fill="#c0c0c0"/>
<rect x="837" y="674" width="1" height="3" fill="#c0c0c0"/>
<rect x="845" y="665" width="1" height="12" fill="#c0c0c0"/>
<rect x="853" y="657" width="1" height="20" fill="#c0c0c0"/>
<rect x="861" y="650" width="1" height="27" fill="#c0c0c0"/>
<rect x="869" y="642" width="1" height="35" fill="#c0c0c0"/>
<rect x="877" y="633" width="1" height="44" fill="#c0c0c0"/>
<rect x="885" y="623" width="1" height="54" fill="#c0c0c0"/>
<rect x="893" y="617" width="1" height="60" fill="#c0c0c0"/>
<rect x="901" y="612" width="1" height="65" fill="#c0c0c0"/>
<rect x="909" y="608" width="1" height="69" fill="#c0c0c0"/>
<rect x="917" y="607" width="1" height="70" fill="#c0c0c0"/>
<rect x="925" y="604" width="1" height="73" fill="#c0c0c0"/>
<rect x="933" y="609" width="1" height="68" fill="#c0c0c0"/>
<rect x="941" y="610" width="1" height="67" fill="#c0c0c0"/>
<rect x="949" y="612" width="1" height="65" fill="#c0c0c0"/>
<rect x="957" y="615" width="1" height="62" fill="#c0c0c0"/>
<rect x="965" y="618" width="1" height="59" fill="#c0c0c0"/>
<rect x="973" y="622" width="1" height="55" fill="#c0c0c0"/>
<rect x="981" y="624" width="1" height="53" fill="#c0c0c0"/>
<rect x="989" y="626" width="1" height="51" fill="#c0c0c0"/>
<rect x="997" y="628" width="1" height="49" fill="#c0c0c0"/>
<rect x="1005" y="630" width="1" height="47" fill="#c0c0c0"/>
<rect x="1013" y="632" width="1" height="45" fill="#c0c0c0"/>
<rect x="1021" y="632" width="1" height="45" fill="#c0c0c0"/>
<rect x="1029" y="634" width="1" height="43" fill="#c0c0c0"/>
<rect x="1037" y="635" width="1" height="42" fill="#c0c0c0"/>
<rect x="1045" y="634" width="1" height="43" fill="#c0c0c0"/>
<rect x="1053" y="632" width="1" height="45" fill="#c0c0c0"/>
<rect x="1061" y="630" width="1" height="47" fill="#c0c0c0"/>
<rect x="1069" y="631" width="1" height="46" fill="#c0c0c0"/>
<rect x="1077" y="631" width="1" height="46" fill="#c0c0c0"/>
<rect x="1085" y="640" width="1" height="37" fill="#c0c0c0"/>
<rect x="1093" y="645" width="1" height="32" fill="#c0c0c0"/>
<rect x="1101" y="651" width="1" height="26" fill="#c0c0c0"/>
<rect x="1109" y="656" width="1" height="21" fill="#c0c0c0"/>
<rect x="1117" y="659" width="1" height="18" fill="#c0c0c0"/>
<rect x="1125" y="663" width="1" height="14" fill="#c0c0c0"/>
<rect x="1133" y="670" width="1" height="7" fill="#c0c0c0"/>
<rect x="1141" y="674" width="1" height="3" fill="#c0c0c0"/>
<rect x="1157" y="677" width="1" height="5" fill="#c0c0c0"/>
<rect x="1165" y="677" width="1" height="7" fill="#c0c0c0"/>
<rect x="1173" y="677" width="1" height="11" fill="#c0c0c0"/>
<rect x="1181" y="677" width="1" height="15" fill="#c0c0c0"/>
<rect x="1189" y="677" width="1" height="15" fill="#c0c0c0"/>
<rect x="1197" y="677" width="1" height="6" fill="#c0c0c0"/>
<rect x="1205" y="677" width="1" height="2" fill="#c0c0c0"/>
<rect x="1213" y="673" width="1" height="4" fill="#c0c0c0"/>
<rect x="1221" y="666" width="1" height="11" fill="#c0c0c0"/>
<rect x="1229" y="660" width="1" height="17" fill="#c0c0c0"/>
<rect x="1237" y="663" width="1" height="14" fill="#c0c0c0"/>
<rect x="1245" y="663" width="1" height="14" fill="#c0c0c0"/>
<rect x="1253" y="666" width="1" height="11" fill="#c0c0c0"/>
<rect x="1261" y="666" width="1" height="11" fill="#c0c0c0"/>
<rect x="1269" y="667" width="1" height="10" fill="#c0c0c0"/>
<rect x="1285" y="677" width="1" height="4" fill="#c0c0c0"/>
<rect x="1293" y="677" width="1" height="9" fill="#c0c0c0"/>
<rect x="1301" y="677" width="1" height="21" fill="#c0c0c0"/>
<rect x="1309" y="677" width="1" height="30" fill="#c0c0c0"/>
<rect x="1317" y="677" width="1" height="40" fill="#c0c0c0"/>
<rect x="1325" y="677" width="1" height="46" fill="#c0c0c0"/>
<rect x="1333" y="677" width="1" height="55" fill="#c0c0c0"/>
<rect x="1341" y="677" width="1" height="62" fill="#c0c0c0"/>
<rect x="1349" y="677" width="1" height="60" fill="#c0c0c0"/>
<rect x="1357" y="677" width="1" height="57" fill="#c0c0c0"/>
<rect x="1365" y="677" width="1" height="54" fill="#c0c0c0"/>
<rect x="1373" y="677" width="1" height="48" fill="#c0c0c0"/>
<rect x="1381" y="677" width="1" height="44" fill="#c0c0c0"/>
<rect x="1389" y="677" width="1" height="35" fill="#c0c0c0"/>
<rect x="1397" y="677" width="1" height="26" fill="#c0c0c0"/>
<rect x="1405" y="677" width="1" height="17" fill="#c0c0c0"/>
</g>
<g clip-path="url(#cmacd)"><polyline points="-2.5,676.5 5.5,678.0 13.5,680.0 21.5,682.3 29.5,684.5 37.5,686.0 45.5,687.3 53.5,688.5 61.5,689.3 69.5,689.6 77.5,689.1 85.5,688.4 93.5,687.2 101.5,685.8 109.5,684.3 117.5,682.8 125.5,681.4 133.5,680.2 141.5,679.3 149.5,678.4 157.5,677.5 165.5,676.8 173.5,676.3 181.5,675.8 189.5,675.4 197.5,675.4 205.5,675.6 213.5,676.2 221.5,677.2 229.5,678.4 237.5,679.8 245.5,681.7 253.5,683.6 261.5,685.3 269.5,686.7 277.5,687.6 285.5,688.8 293.5,690.2 301.5,691.8 309.5,693.8 317.5,695.3 325.5,696.8 333.5,698.0 341.5,699.4 349.5,700.4 357.5,700.6 365.5,700.3 373.5,699.8 381.5,699.2 389.5,698.6 397.5,698.1 405.5,697.3 413.5,696.3 421.5,695.5 429.5,694.8 437.5,694.0 445.5,693.1 453.5,691.7 461.5,689.8 469.5,687.6 477.5,685.5 485.5,683.6 493.5,682.0 501.5,680.5 509.5,679.4 517.5,679.2 525.5,680.5 533.5,683.6 541.5,688.2 549.5,694.2 557.5,700.6 565.5,706.8 573.5,712.7 581.5,718.3 589.5,723.1 597.5,726.1 605.5,727.3 613.5,727.0 621.5,726.0 629.5,725.4 637.5,725.6 645.5,726.6 653.5,727.9 661.5,729.2 669.5,730.8 677.5,732.2 685.5,733.3 693.5,734.1 701.5,735.3 709.5,736.3 717.5,736.9 725.5,737.3 733.5,736.8 741.5,736.0 749.5,735.1 757.5,734.4 765.5,732.6 773.5,729.6 781.5,726.2 789.5,722.9 797.5,719.2 805.5,715.4 813.5,711.6 821.5,707.6 829.5,703.6 837.5,699.1 845.5,694.2 853.5,688.1 861.5,681.1 869.5,673.5 877.5,665.8 885.5,657.7 893.5,649.6 901.5,641.5 909.5,634.2 917.5,627.7 925.5,621.9 933.5,617.3 941.5,613.8 949.5,611.4 957.5,610.5 965.5,610.6 973.5,611.8 981.5,613.6 989.5,615.7 997.5,618.3 1005.5,620.7 1013.5,623.1 1021.5,625.4 1029.5,627.5 1037.5,629.3 1045.5,630.7 1053.5,631.5 1061.5,631.9 1069.5,632.2 1077.5,632.4 1085.5,633.2 1093.5,634.6 1101.5,636.5 1109.5,638.9 1117.5,641.6 1125.5,645.1 1133.5,649.6 1141.5,654.4 1149.5,659.4 1157.5,664.1 1165.5,668.5 1173.5,672.5 1181.5,676.5 1189.5,680.1 1197.5,682.4 1205.5,683.3 1213.5,683.2 1221.5,682.0 1229.5,679.7 1237.5,677.3 1245.5,674.6 1253.5,671.7 1261.5,668.9 1269.5,667.1 1277.5,666.9 1285.5,667.8 1293.5,670.0 1301.5,674.1 1309.5,679.0 1317.5,685.0 1325.5,691.3 1333.5,698.6 1341.5,706.5 1349.5,713.1 1357.5,719.0 1365.5,724.0 1373.5,727.1 1381.5,728.6 1389.5,728.1 1397.5,725.9 1405.5,721.7" fill="none" stroke="#ff0000" stroke-width="1" stroke-dasharray="3,3" shape-rendering="crispEdges"/></g>
<g shape-rendering="crispEdges">
<line x1="2" y1="789.5" x2="1648" y2="789.5" stroke="#c0c0c0" stroke-width="1" stroke-dasharray="3,3"/>
<line x1="2" y1="840.5" x2="1648" y2="840.5" stroke="#c0c0c0" stroke-width="1" stroke-dasharray="3,3"/>
<line x1="2" y1="901.5" x2="1648" y2="901.5" stroke="#c0c0c0" stroke-width="1" stroke-dasharray="3,3"/>
</g>
<g clip-path="url(#crsi)"><polyline points="-2.5,859.0 5.5,863.0 13.5,858.3 21.5,859.4 29.5,861.2 37.5,849.3 45.5,855.3 53.5,846.2 61.5,837.6 69.5,836.3 77.5,842.6 85.5,841.2 93.5,828.2 101.5,829.1 109.5,842.6 117.5,840.8 125.5,839.4 133.5,842.6 141.5,836.3 149.5,831.2 157.5,827.6 165.5,831.8 173.5,840.3 181.5,835.4 189.5,840.3 197.5,857.4 205.5,858.9 213.5,862.5 221.5,863.4 229.5,854.4 237.5,849.3 245.5,872.4 253.5,853.5 261.5,853.5 269.5,843.2 277.5,841.4 285.5,867.0 293.5,869.2 301.5,870.3 309.5,869.2 317.5,866.1 325.5,857.6 333.5,857.6 341.5,858.3 349.5,839.9 357.5,836.7 365.5,856.2 373.5,858.3 381.5,865.2 389.5,854.4 397.5,858.3 405.5,839.6 413.5,840.3 421.5,842.6 429.5,841.7 437.5,847.5 445.5,846.2 453.5,841.7 461.5,832.7 469.5,827.3 477.5,826.4 485.5,829.4 493.5,838.5 501.5,837.7 509.5,853.5 517.5,873.3 525.5,884.2 533.5,887.2 541.5,890.5 549.5,894.5 557.5,863.0 565.5,859.4 573.5,859.4 581.5,860.1 589.5,867.0 597.5,851.7 605.5,848.6 613.5,849.9 621.5,867.9 629.5,870.3 637.5,873.3 645.5,875.1 653.5,874.2 661.5,870.6 669.5,866.1 677.5,854.0 685.5,846.8 693.5,864.3 701.5,875.1 709.5,870.3 717.5,868.8 725.5,864.3 733.5,854.4 741.5,845.3 749.5,850.4 757.5,845.7 765.5,841.4 773.5,846.2 781.5,856.2 789.5,859.4 797.5,846.2 805.5,836.3 813.5,834.5 821.5,835.4 829.5,833.6 837.5,817.3 845.5,818.6 853.5,817.3 861.5,813.7 869.5,808.8 877.5,805.2 885.5,799.3 893.5,804.1 901.5,804.1 909.5,801.6 917.5,805.2 925.5,802.3 933.5,821.0 941.5,816.4 949.5,816.4 957.5,819.1 965.5,817.3 973.5,824.0 981.5,820.4 989.5,817.3 997.5,818.2 1005.5,819.1 1013.5,820.4 1021.5,813.4 1029.5,819.1 1037.5,817.3 1045.5,809.2 1053.5,806.1 1061.5,804.1 1069.5,808.8 1077.5,811.0 1085.5,843.9 1093.5,839.6 1101.5,841.4 1109.5,842.6 1117.5,840.3 1125.5,845.3 1133.5,856.2 1141.5,851.7 1149.5,858.3 1157.5,853.5 1165.5,857.4 1173.5,857.4 1181.5,864.8 1189.5,848.0 1197.5,824.6 1205.5,826.4 1213.5,821.0 1221.5,814.3 1229.5,816.4 1237.5,840.0 1245.5,835.5 1253.5,840.4 1261.5,834.3 1269.5,838.1 1277.5,853.8 1285.5,857.2 1293.5,861.7 1301.5,871.2 1309.5,875.7 1317.5,877.3 1325.5,871.2 1333.5,881.3 1341.5,875.1 1349.5,859.4 1357.5,856.0 1365.5,855.2 1373.5,850.2 1381.5,847.1 1389.5,836.4 1397.5,834.2 1405.5,834.5" fill="none" stroke="#1e90ff" stroke-width="1" shape-rendering="crispEdges"/></g>
<polygon points="1410,27 1419,27 1414.5,32" fill="#c0c0c0"/>
<g shape-rendering="crispEdges" fill="#000">
<rect x="0" y="26" width="1649" height="1"/>
<rect x="1648" y="26" width="1" height="568"/>
<rect x="1648" y="595" width="1" height="157"/>
<rect x="1648" y="753" width="1" height="175"/>
<rect x="0" y="593" width="1649" height="1"/>
<rect x="0" y="595" width="1649" height="1"/>
<rect x="0" y="751" width="1649" height="1"/>
<rect x="0" y="753" width="1649" height="1"/>
<rect x="0" y="927" width="1649" height="1"/>
</g>
<g shape-rendering="crispEdges">
<rect x="1649" y="29" width="3" height="1" fill="#000"/>
<rect x="1649" y="62" width="3" height="1" fill="#000"/>
<rect x="1649" y="95" width="3" height="1" fill="#000"/>
<rect x="1649" y="128" width="3" height="1" fill="#000"/>
<rect x="1649" y="161" width="3" height="1" fill="#000"/>
<rect x="1649" y="194" width="3" height="1" fill="#000"/>
<rect x="1649" y="227" width="3" height="1" fill="#000"/>
<rect x="1649" y="293" width="3" height="1" fill="#000"/>
<rect x="1649" y="326" width="3" height="1" fill="#000"/>
<rect x="1649" y="359" width="3" height="1" fill="#000"/>
<rect x="1649" y="392" width="3" height="1" fill="#000"/>
<rect x="1649" y="425" width="3" height="1" fill="#000"/>
<rect x="1649" y="458" width="3" height="1" fill="#000"/>
<rect x="1649" y="491" width="3" height="1" fill="#000"/>
<rect x="1649" y="524" width="3" height="1" fill="#000"/>
<rect x="1649" y="557" width="3" height="1" fill="#000"/>
<rect x="1649" y="590" width="3" height="1" fill="#000"/>
</g>
<text x="1654" y="33" font-size="9.8" fill="#000" font-family="Liberation Sans, sans-serif" textLength="32.7" lengthAdjust="spacingAndGlyphs" >36346.0</text>
<text x="1654" y="66" font-size="9.8" fill="#000" font-family="Liberation Sans, sans-serif" textLength="32.7" lengthAdjust="spacingAndGlyphs" >36202.0</text>
<text x="1654" y="99" font-size="9.8" fill="#000" font-family="Liberation Sans, sans-serif" textLength="32.7" lengthAdjust="spacingAndGlyphs" >36054.0</text>
<text x="1654" y="132" font-size="9.8" fill="#000" font-family="Liberation Sans, sans-serif" textLength="32.7" lengthAdjust="spacingAndGlyphs" >35910.0</text>
<text x="1654" y="165" font-size="9.8" fill="#000" font-family="Liberation Sans, sans-serif" textLength="32.7" lengthAdjust="spacingAndGlyphs" >35766.0</text>
<text x="1654" y="198" font-size="9.8" fill="#000" font-family="Liberation Sans, sans-serif" textLength="32.7" lengthAdjust="spacingAndGlyphs" >35622.0</text>
<text x="1654" y="231" font-size="9.8" fill="#000" font-family="Liberation Sans, sans-serif" textLength="32.7" lengthAdjust="spacingAndGlyphs" >35474.0</text>
<text x="1654" y="297" font-size="9.8" fill="#000" font-family="Liberation Sans, sans-serif" textLength="32.7" lengthAdjust="spacingAndGlyphs" >35186.0</text>
<text x="1654" y="330" font-size="9.8" fill="#000" font-family="Liberation Sans, sans-serif" textLength="32.7" lengthAdjust="spacingAndGlyphs" >35042.0</text>
<text x="1654" y="363" font-size="9.8" fill="#000" font-family="Liberation Sans, sans-serif" textLength="32.7" lengthAdjust="spacingAndGlyphs" >34894.0</text>
<text x="1654" y="396" font-size="9.8" fill="#000" font-family="Liberation Sans, sans-serif" textLength="32.7" lengthAdjust="spacingAndGlyphs" >34750.0</text>
<text x="1654" y="429" font-size="9.8" fill="#000" font-family="Liberation Sans, sans-serif" textLength="32.7" lengthAdjust="spacingAndGlyphs" >34606.0</text>
<text x="1654" y="462" font-size="9.8" fill="#000" font-family="Liberation Sans, sans-serif" textLength="32.7" lengthAdjust="spacingAndGlyphs" >34462.0</text>
<text x="1654" y="495" font-size="9.8" fill="#000" font-family="Liberation Sans, sans-serif" textLength="32.7" lengthAdjust="spacingAndGlyphs" >34314.0</text>
<text x="1654" y="528" font-size="9.8" fill="#000" font-family="Liberation Sans, sans-serif" textLength="32.7" lengthAdjust="spacingAndGlyphs" >34170.0</text>
<text x="1654" y="561" font-size="9.8" fill="#000" font-family="Liberation Sans, sans-serif" textLength="32.7" lengthAdjust="spacingAndGlyphs" >34026.0</text>
<text x="1654" y="594" font-size="9.8" fill="#000" font-family="Liberation Sans, sans-serif" textLength="32.7" lengthAdjust="spacingAndGlyphs" >33882.0</text>
<rect x="1650" y="181" width="41" height="11" fill="#ff0000" shape-rendering="crispEdges"/>
<text x="1654" y="190" font-size="9.8" fill="#fff" font-family="Liberation Sans, sans-serif" textLength="32.7" lengthAdjust="spacingAndGlyphs" >35650.4</text>
<rect x="1643.5" y="185.5" width="4" height="4" fill="#fff" stroke="#ff0000" stroke-width="1"/>
<rect x="1650" y="210" width="41" height="11" fill="#ff0000" shape-rendering="crispEdges"/>
<text x="1654" y="219" font-size="9.8" fill="#fff" font-family="Liberation Sans, sans-serif" textLength="32.7" lengthAdjust="spacingAndGlyphs" >35523.2</text>
<rect x="1643.5" y="214.5" width="4" height="4" fill="#fff" stroke="#ff0000" stroke-width="1"/>
<rect x="1650" y="237" width="41" height="11" fill="#000000" shape-rendering="crispEdges"/>
<text x="1654" y="246" font-size="9.8" fill="#fff" font-family="Liberation Sans, sans-serif" textLength="32.7" lengthAdjust="spacingAndGlyphs" >35404.0</text>
<rect x="1650" y="255" width="41" height="11" fill="#32cd32" shape-rendering="crispEdges"/>
<text x="1654" y="264" font-size="9.8" fill="#fff" font-family="Liberation Sans, sans-serif" textLength="32.7" lengthAdjust="spacingAndGlyphs" >35325.9</text>
<rect x="1643.5" y="259.5" width="4" height="4" fill="#fff" stroke="#32cd32" stroke-width="1"/>
<rect x="1650" y="278" width="41" height="11" fill="#0000ff" shape-rendering="crispEdges"/>
<text x="1654" y="287" font-size="9.8" fill="#fff" font-family="Liberation Sans, sans-serif" textLength="32.7" lengthAdjust="spacingAndGlyphs" >35225.0</text>
<rect x="1643.5" y="282.5" width="4" height="4" fill="#fff" stroke="#0000ff" stroke-width="1"/>
<rect x="1650" y="305" width="41" height="11" fill="#0000ff" shape-rendering="crispEdges"/>
<text x="1654" y="314" font-size="9.8" fill="#fff" font-family="Liberation Sans, sans-serif" textLength="32.7" lengthAdjust="spacingAndGlyphs" >35106.6</text>
<rect x="1643.5" y="309.5" width="4" height="4" fill="#fff" stroke="#0000ff" stroke-width="1"/>
<g shape-rendering="crispEdges" fill="#000"><rect x="1649" y="597" width="2" height="1"/><rect x="1649" y="677" width="2" height="1"/><rect x="1649" y="750" width="2" height="1"/><rect x="1649" y="755" width="2" height="1"/><rect x="1649" y="926" width="2" height="1"/></g>
<text x="1652" y="606" font-size="9.8" fill="#000" font-family="Liberation Sans, sans-serif" textLength="28" lengthAdjust="spacingAndGlyphs" >321.42</text>
<text x="1652" y="681" font-size="9.8" fill="#000" font-family="Liberation Sans, sans-serif" textLength="17.8" lengthAdjust="spacingAndGlyphs" >0.00</text>
<text x="1652" y="748" font-size="9.8" fill="#000" font-family="Liberation Sans, sans-serif" textLength="31" lengthAdjust="spacingAndGlyphs" >-291.98</text>
<text x="1651.5" y="764" font-size="9.8" fill="#000" font-family="Liberation Sans, sans-serif" textLength="15.3" lengthAdjust="spacingAndGlyphs" >100</text>
<text x="1651" y="793" font-size="9.8" fill="#000" font-family="Liberation Sans, sans-serif" textLength="10" lengthAdjust="spacingAndGlyphs" >80</text>
<text x="1651" y="844" font-size="9.8" fill="#000" font-family="Liberation Sans, sans-serif" textLength="10" lengthAdjust="spacingAndGlyphs" >50</text>
<text x="1651.5" y="905" font-size="9.8" fill="#000" font-family="Liberation Sans, sans-serif" textLength="9.6" lengthAdjust="spacingAndGlyphs" >15</text>
<text x="1652" y="924" font-size="9.8" fill="#000" font-family="Liberation Sans, sans-serif" textLength="5" lengthAdjust="spacingAndGlyphs" >0</text>
<g shape-rendering="crispEdges">
<rect x="53" y="928" width="1" height="3" fill="#000"/>
<rect x="117" y="928" width="1" height="3" fill="#000"/>
<rect x="181" y="928" width="1" height="3" fill="#000"/>
<rect x="245" y="928" width="1" height="3" fill="#000"/>
<rect x="309" y="928" width="1" height="3" fill="#000"/>
<rect x="373" y="928" width="1" height="3" fill="#000"/>
<rect x="437" y="928" width="1" height="3" fill="#000"/>
<rect x="501" y="928" width="1" height="3" fill="#000"/>
<rect x="565" y="928" width="1" height="3" fill="#000"/>
<rect x="629" y="928" width="1" height="3" fill="#000"/>
<rect x="693" y="928" width="1" height="3" fill="#000"/>
<rect x="757" y="928" width="1" height="3" fill="#000"/>
<rect x="821" y="928" width="1" height="3" fill="#000"/>
<rect x="885" y="928" width="1" height="3" fill="#000"/>
<rect x="949" y="928" width="1" height="3" fill="#000"/>
<rect x="1013" y="928" width="1" height="3" fill="#000"/>
<rect x="1077" y="928" width="1" height="3" fill="#000"/>
<rect x="1141" y="928" width="1" height="3" fill="#000"/>
<rect x="1205" y="928" width="1" height="3" fill="#000"/>
<rect x="1269" y="928" width="1" height="3" fill="#000"/>
<rect x="1333" y="928" width="1" height="3" fill="#000"/>
<rect x="1397" y="928" width="1" height="3" fill="#000"/>
</g>
<text x="-11.8" y="940" font-size="9.8" fill="#000" font-family="Liberation Sans, sans-serif" textLength="52.0" lengthAdjust="spacingAndGlyphs" >11 Nov 2021</text>
<text x="52.2" y="940" font-size="9.8" fill="#000" font-family="Liberation Sans, sans-serif" textLength="55.3" lengthAdjust="spacingAndGlyphs" >12 Nov 16:00</text>
<text x="116.2" y="940" font-size="9.8" fill="#000" font-family="Liberation Sans, sans-serif" textLength="55.3" lengthAdjust="spacingAndGlyphs" >15 Nov 20:00</text>
<text x="180.2" y="940" font-size="9.8" fill="#000" font-family="Liberation Sans, sans-serif" textLength="55.3" lengthAdjust="spacingAndGlyphs" >17 Nov 04:00</text>
<text x="244.2" y="940" font-size="9.8" fill="#000" font-family="Liberation Sans, sans-serif" textLength="55.3" lengthAdjust="spacingAndGlyphs" >18 Nov 12:00</text>
<text x="308.2" y="940" font-size="9.8" fill="#000" font-family="Liberation Sans, sans-serif" textLength="55.3" lengthAdjust="spacingAndGlyphs" >19 Nov 20:00</text>
<text x="372.2" y="940" font-size="9.8" fill="#000" font-family="Liberation Sans, sans-serif" textLength="55.3" lengthAdjust="spacingAndGlyphs" >23 Nov 00:00</text>
<text x="436.2" y="940" font-size="9.8" fill="#000" font-family="Liberation Sans, sans-serif" textLength="55.3" lengthAdjust="spacingAndGlyphs" >24 Nov 08:00</text>
<text x="500.2" y="940" font-size="9.8" fill="#000" font-family="Liberation Sans, sans-serif" textLength="55.3" lengthAdjust="spacingAndGlyphs" >25 Nov 16:00</text>
<text x="564.2" y="940" font-size="9.8" fill="#000" font-family="Liberation Sans, sans-serif" textLength="55.3" lengthAdjust="spacingAndGlyphs" >29 Nov 00:00</text>
<text x="628.2" y="940" font-size="9.8" fill="#000" font-family="Liberation Sans, sans-serif" textLength="55.3" lengthAdjust="spacingAndGlyphs" >30 Nov 08:00</text>
<text x="692.2" y="940" font-size="9.8" fill="#000" font-family="Liberation Sans, sans-serif" textLength="50.1" lengthAdjust="spacingAndGlyphs" >1 Dec 16:00</text>
<text x="756.2" y="940" font-size="9.8" fill="#000" font-family="Liberation Sans, sans-serif" textLength="50.1" lengthAdjust="spacingAndGlyphs" >3 Dec 00:00</text>
<text x="820.2" y="940" font-size="9.8" fill="#000" font-family="Liberation Sans, sans-serif" textLength="50.1" lengthAdjust="spacingAndGlyphs" >6 Dec 04:00</text>
<text x="884.2" y="940" font-size="9.8" fill="#000" font-family="Liberation Sans, sans-serif" textLength="50.1" lengthAdjust="spacingAndGlyphs" >7 Dec 12:00</text>
<text x="948.2" y="940" font-size="9.8" fill="#000" font-family="Liberation Sans, sans-serif" textLength="50.1" lengthAdjust="spacingAndGlyphs" >8 Dec 20:00</text>
<text x="1012.2" y="940" font-size="9.8" fill="#000" font-family="Liberation Sans, sans-serif" textLength="55.3" lengthAdjust="spacingAndGlyphs" >10 Dec 04:00</text>
<text x="1076.2" y="940" font-size="9.8" fill="#000" font-family="Liberation Sans, sans-serif" textLength="55.3" lengthAdjust="spacingAndGlyphs" >13 Dec 08:00</text>
<text x="1140.2" y="940" font-size="9.8" fill="#000" font-family="Liberation Sans, sans-serif" textLength="55.3" lengthAdjust="spacingAndGlyphs" >14 Dec 16:00</text>
<text x="1204.2" y="940" font-size="9.8" fill="#000" font-family="Liberation Sans, sans-serif" textLength="55.3" lengthAdjust="spacingAndGlyphs" >16 Dec 00:00</text>
<text x="1268.2" y="940" font-size="9.8" fill="#000" font-family="Liberation Sans, sans-serif" textLength="55.3" lengthAdjust="spacingAndGlyphs" >17 Dec 08:00</text>
<text x="1332.2" y="940" font-size="9.8" fill="#000" font-family="Liberation Sans, sans-serif" textLength="55.3" lengthAdjust="spacingAndGlyphs" >20 Dec 12:00</text>
<text x="1396.2" y="940" font-size="9.8" fill="#000" font-family="Liberation Sans, sans-serif" textLength="55.3" lengthAdjust="spacingAndGlyphs" >21 Dec 20:00</text>
<text x="4.5" y="38" font-size="9.8" fill="#000" font-family="Liberation Sans, sans-serif" textLength="185.5" lengthAdjust="spacingAndGlyphs" >DJ30-,H4&#160;&#160;35400.0 35405.0 35399.0 35404.0</text>
<text x="-6" y="608" font-size="9.8" fill="#000" font-family="Liberation Sans, sans-serif" textLength="127.5" lengthAdjust="spacingAndGlyphs" >MACD(12,26,9) -80.46 -180.32</text>
<text x="-6.5" y="766" font-size="9.8" fill="#000" font-family="Liberation Sans, sans-serif" textLength="67" lengthAdjust="spacingAndGlyphs" >RSI(14) 53.9773</text>
<rect x="1336" y="258" width="126" height="7" fill="#00ff00" shape-rendering="crispEdges"/>
<line x1="1232.0" y1="101.5" x2="1333.8" y2="420.9" stroke="#ff0000" stroke-width="3.1" stroke-linecap="round"/>
<polygon points="1336.5,429.5 1328.8,420.4 1337.5,417.6" fill="#ff0000" stroke="#ff0000" stroke-width="1.2" stroke-linejoin="round"/>
<line x1="1337.5" y1="428.0" x2="1412.9" y2="248.1" stroke="#ff0000" stroke-width="3.1" stroke-linecap="round"/>
<polygon points="1416.4,239.8 1416.4,251.7 1407.9,248.2" fill="#ff0000" stroke="#ff0000" stroke-width="1.2" stroke-linejoin="round"/>
<line x1="1269.0" y1="663.7" x2="1342.5" y2="748.5" stroke="#ff0000" stroke-width="3.1" stroke-linecap="round"/>
<polygon points="1348.4,755.3 1337.7,750.0 1344.7,744.0" fill="#ff0000" stroke="#ff0000" stroke-width="1.2" stroke-linejoin="round"/>
<line x1="1348.4" y1="755.3" x2="1406.9" y2="699.0" stroke="#ff0000" stroke-width="3.1" stroke-linecap="round"/>
<polygon points="1413.4,692.8 1408.7,703.7 1402.3,697.1" fill="#ff0000" stroke="#ff0000" stroke-width="1.2" stroke-linejoin="round"/>
<line x1="1240.1" y1="826.9" x2="1323.4" y2="881.4" stroke="#ff0000" stroke-width="3.1" stroke-linecap="round"/>
<polygon points="1330.9,886.3 1319.2,884.1 1324.2,876.4" fill="#ff0000" stroke="#ff0000" stroke-width="1.2" stroke-linejoin="round"/>
<line x1="1330.9" y1="886.3" x2="1397.9" y2="832.0" stroke="#ff0000" stroke-width="3.1" stroke-linecap="round"/>
<polygon points="1404.9,826.3 1399.3,836.8 1393.5,829.7" fill="#ff0000" stroke="#ff0000" stroke-width="1.2" stroke-linejoin="round"/>
<defs><linearGradient id="gbtn" x1="0" y1="0" x2="0" y2="1"><stop offset="0" stop-color="#5f5fff"/><stop offset="1" stop-color="#3232e6"/></linearGradient><linearGradient id="gprc" x1="0" y1="0" x2="0" y2="1"><stop offset="0" stop-color="#3c3ce8"/><stop offset="1" stop-color="#0c0cb6"/></linearGradient><linearGradient id="gspin" x1="0" y1="0" x2="0" y2="1"><stop offset="0" stop-color="#f2f2f2"/><stop offset="0.45" stop-color="#ebebeb"/><stop offset="0.5" stop-color="#dcdcdc"/><stop offset="1" stop-color="#d2d2d2"/></linearGradient></defs>
<g shape-rendering="crispEdges">
<rect x="0" y="46" width="211" height="59" fill="#fff"/>
<rect x="0" y="70" width="101" height="33" fill="#0000a8"/>
<rect x="0" y="71" width="100" height="31" fill="url(#gprc)"/>
<rect x="103" y="70" width="108" height="33" fill="#0000a8"/>
<rect x="104" y="71" width="106" height="31" fill="url(#gprc)"/>
<rect x="0" y="46" width="44" height="25" fill="#0000a8"/>
<rect x="0" y="47" width="43" height="23" fill="url(#gbtn)"/>
<rect x="0" y="69" width="40" height="1" fill="#1a1ac0"/>
<rect x="0" y="70" width="40" height="1" fill="#8c8cff"/>
<rect x="0" y="71" width="44" height="1" fill="url(#gprc)"/>
<rect x="159" y="46" width="52" height="25" fill="#0000a8"/>
<rect x="160" y="47" width="50" height="23" fill="url(#gbtn)"/>
<rect x="163" y="69" width="44" height="1" fill="#1a1ac0"/>
<rect x="163" y="70" width="44" height="1" fill="#8c8cff"/>
<rect x="44" y="46" width="115" height="24" fill="#fff"/>
<rect x="46" y="46" width="111" height="22" fill="#a8a8a8"/>
<rect x="47" y="47" width="109" height="20" fill="#fff"/>
<rect x="48" y="48" width="18" height="18" fill="url(#gspin)"/>
<rect x="67" y="47" width="1" height="20" fill="#a8a8a8"/>
<rect x="135" y="47" width="1" height="20" fill="#a8a8a8"/>
<rect x="137" y="48" width="18" height="18" fill="url(#gspin)"/>
</g>
<polygon points="54,55 59,55 56.5,58" fill="#4a63c8"/>
<polygon points="143.5,58 148.5,58 146,55" fill="#4a63c8"/>
<text x="4.4" y="61.8" font-size="12" fill="#fff" font-family="Liberation Sans, sans-serif" textLength="25.4" lengthAdjust="spacingAndGlyphs" >SELL</text>
<text x="172.5" y="61.8" font-size="12" fill="#fff" font-family="Liberation Sans, sans-serif" textLength="23.5" lengthAdjust="spacingAndGlyphs" >BUY</text>
<text x="108.4" y="60.9" font-size="12.3" fill="#000" font-family="Liberation Sans, sans-serif" textLength="23.5" lengthAdjust="spacingAndGlyphs" >1.00</text>
<text x="8.6" y="97.7" font-size="11.6" fill="#fff" font-family="Liberation Sans, sans-serif" textLength="34" lengthAdjust="spacingAndGlyphs" font-weight="bold" >35402</text>
<rect x="47" y="94" width="3" height="4" fill="#fff"/>
<text x="54.6" y="98.2" font-size="34" fill="#fff" font-family="Liberation Sans, sans-serif" textLength="16.1" lengthAdjust="spacingAndGlyphs" >5</text>
<text x="118.6" y="97.7" font-size="11.6" fill="#fff" font-family="Liberation Sans, sans-serif" textLength="34.2" lengthAdjust="spacingAndGlyphs" font-weight="bold" >35411</text>
<rect x="159" y="94" width="3" height="4" fill="#fff"/>
<text x="165.8" y="98.2" font-size="34" fill="#fff" font-family="Liberation Sans, sans-serif" textLength="16.1" lengthAdjust="spacingAndGlyphs" >5</text>
<circle cx="1" cy="18" r="2" fill="#d4a020"/>
<path d="M0 5 h3 M1.5 3.5 v3" stroke="#555" stroke-width="1"/>
<rect x="9" y="1" width="1" height="19" fill="#a0a0a0" shape-rendering="crispEdges"/><rect x="10" y="1" width="1" height="19" fill="#ffffff" shape-rendering="crispEdges"/>
<path d="M19.5 2.5 h7.5 l3.5 3.5 v10.5 h-11 z" fill="#fdfdfd" stroke="#8a8a8a" stroke-width="1"/>
<path d="M21.0 6.5 h5 M21.0 9.5 h6 M21.0 12.5 h6" stroke="#9a9a9a" stroke-width="1"/>
<path d="M27.0 8.0 h4 v4 h4 v4 h-4 v4 h-4 v-4 h-4 v-4 h4 z" fill="#22cc22" stroke="#119911" stroke-width="0.8"/>
<g stroke="#000" stroke-width="1.2" fill="none"><path d="M41.5 3v2 M38 5.5h7 M39.5 6.5l1 2 M43.5 6.5l-1 2 M38 9.5h7 M41.5 9.5v5.5 M41.5 11l-3 3 M41.5 11.5l2.5 2"/><path d="M50.5 3.5l-4 1.5 M46.5 5v5 q0 3 -1.5 4.5 M46.5 8.5h4.5 M49.5 8.5v6.5"/><path d="M51.5 3.5l1.5 1.5 M51 7.5h2.5v6.5l1.5 -1 M55 4.5h7.5 M59.5 4.5v10.5 l-1.5 -1"/><path d="M66 3l1 1.5 M71.5 3l-1 1.5 M64.5 5.5h9v5.5h-9z M64.5 8.5h9 M69 5.5v9.5 M62.5 12.5h13"/></g>
<polygon points="86.5,11.5 92,3.5 101.5,12 94.5,17.5" fill="#e8b820" stroke="#9a6010" stroke-width="1.1" stroke-linejoin="round"/>
<polygon points="89,11 92.5,6 99,11.5 95,15" fill="#f6d44a"/>
<path d="M88 12.5 L94.5 16.5 L100.5 12.2" stroke="#f3e3a0" stroke-width="1" fill="none"/>
<rect x="116" y="2.2" width="11" height="10" rx="0.8" fill="#1a90ec"/>
<path d="M117 3 l3 2.5 v6" stroke="#e0f0ff" stroke-width="0.9" fill="none"/>
<rect x="121" y="6.5" width="5" height="1.5" fill="#e8f4ff"/>
<path d="M115 17.5 a2.6 2.6 0 0 1 0.5 -5 a3 3 0 0 1 4.5 -1.5 a3.2 3.2 0 0 1 5.5 0.5 a2.8 2.8 0 0 1 3 5.5 z" fill="#e4e8f0" stroke="#3a5a9a" stroke-width="1"/>
<circle cx="150" cy="10" r="7.5" fill="none" stroke="#9fb8e8" stroke-width="1.2"/>
<circle cx="150" cy="10" r="5.5" fill="none" stroke="#6f90d8" stroke-width="1.2"/>
<circle cx="150" cy="10" r="3.5" fill="none" stroke="#4a74cc" stroke-width="1.2"/>
<path d="M150 10 v7 M150 17 a7.5 7.5 0 0 0 6.5 -4" stroke="#2aa02a" stroke-width="1.6" fill="none"/>
<circle cx="150" cy="10" r="1.5" fill="#2050c0"/>
<path d="M170 11 l6 6 h4 l4 -6 z" fill="#f0d040" stroke="#b09020" stroke-width="0.8"/>
<ellipse cx="177" cy="7.5" rx="8" ry="3" fill="#5aa0e0" stroke="#3070b0" stroke-width="0.8"/>
<ellipse cx="177" cy="5.5" rx="4.5" ry="3.5" fill="#78b8ec"/>
<circle cx="181.5" cy="14" r="4.2" fill="#d82010"/>
<rect x="180" y="12.5" width="3" height="3" fill="#fff"/>
<g stroke="#000" stroke-width="1.2" fill="none"><path d="M196.5 2.5l-1 2 M192.5 4.5h8v10h-8z M192.5 7.5h8 M192.5 11h8"/><path d="M202 4.5h5 M201.5 7.5h6.5 M204.5 7.5l-2.5 6 l5.5 -1 M206 11.5l1.5 2 M208.5 6.5h5.5v8l-1.5 -1 M211 3v4.5q0 4 -2.5 7"/><path d="M220.5 2.5v2 M215 5.5h11 M218 6.5l-2 3 M223.5 6.5l2 3 M217.5 9l7 6 M224 9l-8 6"/><path d="M229.5 3.5h6v5h-6z M229.5 6h6 M228 10.5h9l-1 4l-1.5 -0.5 M230.5 9l-2.5 4 M232.5 10.5l-2 4 M234.5 10.5l-2.5 4.5"/></g>
<rect x="245" y="1" width="1" height="19" fill="#a0a0a0" shape-rendering="crispEdges"/><rect x="246" y="1" width="1" height="19" fill="#ffffff" shape-rendering="crispEdges"/>
<g shape-rendering="crispEdges"><rect x="249" y="2" width="3" height="1" fill="#a8a8a8"/><rect x="249" y="4" width="3" height="1" fill="#a8a8a8"/><rect x="249" y="6" width="3" height="1" fill="#a8a8a8"/><rect x="249" y="8" width="3" height="1" fill="#a8a8a8"/><rect x="249" y="10" width="3" height="1" fill="#a8a8a8"/><rect x="249" y="12" width="3" height="1" fill="#a8a8a8"/><rect x="249" y="14" width="3" height="1" fill="#a8a8a8"/><rect x="249" y="16" width="3" height="1" fill="#a8a8a8"/><rect x="249" y="18" width="3" height="1" fill="#a8a8a8"/></g>
<g stroke="#4d4d4d" stroke-width="1.3" fill="none"><path d="M263.5 4.5 V17.5 M261.5 15.5 H275.0"/><path d="M261.9 6 L263.5 4.2 L265.1 6 M273.5 14 L275.3 15.5 L273.5 17"/></g>
<path d="M271 5.5 h-2 v7.5 h-2" stroke="#1a9a1a" stroke-width="1.4" fill="none"/>
<rect x="283" y="1" width="1" height="19" fill="#a0a0a0" shape-rendering="crispEdges"/><rect x="284" y="1" width="1" height="19" fill="#ffffff" shape-rendering="crispEdges"/>
<rect x="285" y="0" width="24" height="20" fill="#f7f7f7" shape-rendering="crispEdges"/>
<g stroke="#4d4d4d" stroke-width="1.3" fill="none"><path d="M291.5 4.5 V17.5 M289.5 15.5 H303.0"/><path d="M289.9 6 L291.5 4.2 L293.1 6 M301.5 14 L303.3 15.5 L301.5 17"/></g>
<rect x="295.5" y="4" width="4" height="8" fill="#3adc3a" stroke="#1a9a1a" stroke-width="1"/><path d="M297.5 2 v2 M297.5 12 v2" stroke="#1a9a1a" stroke-width="1.2"/>
<g stroke="#4d4d4d" stroke-width="1.3" fill="none"><path d="M319.5 4.5 V17.5 M317.5 15.5 H331.0"/><path d="M317.9 6 L319.5 4.2 L321.1 6 M329.5 14 L331.3 15.5 L329.5 17"/></g>
<path d="M318 12.5 Q323 4 330 11" stroke="#1a9a1a" stroke-width="1.3" fill="none"/>
<rect x="340" y="1" width="1" height="19" fill="#a0a0a0" shape-rendering="crispEdges"/><rect x="341" y="1" width="1" height="19" fill="#ffffff" shape-rendering="crispEdges"/>
<path d="M357.8 11.5 L362.8 16.5" stroke="#c8a020" stroke-width="2.6" stroke-linecap="round"/>
<circle cx="354.8" cy="8" r="5.3" fill="#d8ecff" stroke="#3a7ad0" stroke-width="1.2"/>
<path d="M351.8 8 h6 M354.8 5 v6" stroke="#2a68c0" stroke-width="1.8"/>
<path d="M385.8 11.5 L390.8 16.5" stroke="#c8a020" stroke-width="2.6" stroke-linecap="round"/>
<circle cx="382.8" cy="8" r="5.3" fill="#d8ecff" stroke="#3a7ad0" stroke-width="1.2"/>
<path d="M379.8 8 h6 " stroke="#2a68c0" stroke-width="1.8"/>
<rect x="405.5" y="2.5" width="7.5" height="7" fill="#2aa02a"/><rect x="406.7" y="5.7" width="5" height="2.5" fill="#e8f0ff"/>
<rect x="413.5" y="2.5" width="7.5" height="7" fill="#2050c8"/><rect x="414.7" y="5.7" width="5" height="2.5" fill="#e8f0ff"/>
<rect x="405.5" y="10" width="7.5" height="7" fill="#2050c8"/><rect x="406.7" y="13.2" width="5" height="2.5" fill="#e8f0ff"/>
<rect x="413.5" y="10" width="7.5" height="7" fill="#2aa02a"/><rect x="414.7" y="13.2" width="5" height="2.5" fill="#e8f0ff"/>
<rect x="430" y="1" width="1" height="19" fill="#a0a0a0" shape-rendering="crispEdges"/><rect x="431" y="1" width="1" height="19" fill="#ffffff" shape-rendering="crispEdges"/>
<rect x="434" y="1" width="1" height="19" fill="#a0a0a0" shape-rendering="crispEdges"/><rect x="435" y="1" width="1" height="19" fill="#ffffff" shape-rendering="crispEdges"/>
<rect x="436" y="0" width="24" height="20" fill="#f7f7f7" shape-rendering="crispEdges"/>
<g stroke="#4d4d4d" stroke-width="1.3" fill="none"><path d="M443.5 4.5 V17.5 M441.5 15.5 H455.0"/><path d="M441.9 6 L443.5 4.2 L445.1 6 M453.5 14 L455.3 15.5 L453.5 17"/></g>
<polygon points="448,6 452.5,9.5 448,13" fill="#2ab02a"/>
<rect x="463" y="1" width="1" height="19" fill="#a0a0a0" shape-rendering="crispEdges"/><rect x="464" y="1" width="1" height="19" fill="#ffffff" shape-rendering="crispEdges"/>
<rect x="465" y="0" width="24" height="20" fill="#f7f7f7" shape-rendering="crispEdges"/>
<g stroke="#4d4d4d" stroke-width="1.3" fill="none"><path d="M471.5 4.5 V17.5 M469.5 15.5 H483.0"/><path d="M469.9 6 L471.5 4.2 L473.1 6 M481.5 14 L483.3 15.5 L481.5 17"/></g>
<path d="M477.5 4 v9.5" stroke="#2060c0" stroke-width="1.3"/><path d="M482.5 9.5 h-4 M480 7.5 l-2 2 l2 2" stroke="#e04010" stroke-width="1.3" fill="none"/>
<rect x="492" y="1" width="1" height="19" fill="#a0a0a0" shape-rendering="crispEdges"/><rect x="493" y="1" width="1" height="19" fill="#ffffff" shape-rendering="crispEdges"/>
<path d="M502.5 2.5 h7.5 l3.5 3.5 v10.5 h-11 z" fill="#fdfdfd" stroke="#8a8a8a" stroke-width="1"/>
<path d="M504.0 6.5 h5 M504.0 9.5 h6 M504.0 12.5 h6" stroke="#9a9a9a" stroke-width="1"/>
<path d="M510.0 8.0 h4 v4 h4 v4 h-4 v4 h-4 v-4 h-4 v-4 h4 z" fill="#22cc22" stroke="#119911" stroke-width="0.8"/>
<polygon points="524.0,9.5 529.5,9.5 526.8,12.5" fill="#111"/>
<circle cx="548" cy="10" r="7.5" fill="#1e5fc0"/><circle cx="548" cy="10" r="5.3" fill="#f8f8ff"/><path d="M548 6.5 V10 H551" stroke="#333" stroke-width="1" fill="none"/>
<polygon points="562.8,9.5 568.3,9.5 565.5,12.5" fill="#111"/>
<rect x="579.5" y="3.5" width="15" height="13" fill="#fff" stroke="#2a6ad0" stroke-width="1.2"/><rect x="580" y="4" width="14" height="2" fill="#4a8ae0"/>
<path d="M581 11 l3 -2 l3 1 l3 -2 l3 1 M581 15 l3 -2 l3 1 l3 -2 l3 1" stroke="#c02010" stroke-width="1" fill="none"/>
<path d="M581 15 l3 -2 l3 1 l3 -2 l3 1" stroke="#20a020" stroke-width="1" fill="none"/>
<polygon points="601.7,9.5 607.2,9.5 604.5,12.5" fill="#111"/>
<rect x="613" y="1" width="1" height="19" fill="#a0a0a0" shape-rendering="crispEdges"/><rect x="614" y="1" width="1" height="19" fill="#ffffff" shape-rendering="crispEdges"/>
<g shape-rendering="crispEdges"><rect x="617" y="2" width="3" height="1" fill="#a8a8a8"/><rect x="617" y="4" width="3" height="1" fill="#a8a8a8"/><rect x="617" y="6" width="3" height="1" fill="#a8a8a8"/><rect x="617" y="8" width="3" height="1" fill="#a8a8a8"/><rect x="617" y="10" width="3" height="1" fill="#a8a8a8"/><rect x="617" y="12" width="3" height="1" fill="#a8a8a8"/><rect x="617" y="14" width="3" height="1" fill="#a8a8a8"/><rect x="617" y="16" width="3" height="1" fill="#a8a8a8"/><rect x="617" y="18" width="3" height="1" fill="#a8a8a8"/></g>
<rect x="623" y="1" width="1" height="19" fill="#a0a0a0" shape-rendering="crispEdges"/><rect x="624" y="1" width="1" height="19" fill="#ffffff" shape-rendering="crispEdges"/>
<rect x="625" y="0" width="24" height="20" fill="#f7f7f7" shape-rendering="crispEdges"/>
<polygon points="631,3 631,16 634,13 636.5,18 638.5,17 636,12 640,12" fill="#3a3a3a"/>
<path d="M663.5 3 v6 M663.5 12 v6 M656 10.5 h6 M665 10.5 h6" stroke="#4d4d4d" stroke-width="1.2"/>
<rect x="680" y="1" width="1" height="19" fill="#a0a0a0" shape-rendering="crispEdges"/><rect x="681" y="1" width="1" height="19" fill="#ffffff" shape-rendering="crispEdges"/>
<g stroke="#4d4d4d" stroke-width="1.3" fill="none"><path d="M697.6 4 V17"/><path d="M719.8 10.5 H732.2"/><path d="M747.8 17 L760.2 5"/><path d="M774 15 L785 4 M777 17 L788 6 M776 11 l3 1 M779 8 l3 1 M782 5 l3 1"/></g>
<text x="784.5" y="19" font-size="6.5" fill="#4d4d4d" font-family="Liberation Sans, sans-serif" font-weight="bold" >E</text>
<g stroke="#4d4d4d" stroke-width="1" stroke-dasharray="1,1" fill="none"><path d="M803 3.5 H816 M803 6.5 H816 M803 10.5 H816 M803 14.5 H812"/></g>
<text x="812.5" y="19.5" font-size="6.5" fill="#4d4d4d" font-family="Liberation Sans, sans-serif" font-weight="bold" >F</text>
<text x="833.5" y="15" font-size="11" fill="#4d4d4d" font-family="Liberation Sans, sans-serif" font-weight="bold" >A</text>
<rect x="859.5" y="4.5" width="12.5" height="12" fill="none" stroke="#4d4d4d" stroke-width="1" stroke-dasharray="1,1"/>
<text x="861.5" y="15" font-size="10.5" fill="#4d4d4d" font-family="Liberation Sans, sans-serif" font-weight="bold" >T</text>
<path d="M887 7 l3 -3 l3 3 z M895 14 l3 3 l3 -3 z" fill="#4d4d4d"/><path d="M891 11 l2 2 l4 -5" stroke="#4d4d4d" stroke-width="1.3" fill="none"/>
<polygon points="908.0,9.5 913.5,9.5 910.8,12.5" fill="#111"/>
<rect x="919" y="1" width="1" height="19" fill="#a0a0a0" shape-rendering="crispEdges"/><rect x="920" y="1" width="1" height="19" fill="#ffffff" shape-rendering="crispEdges"/>
<g shape-rendering="crispEdges"><rect x="923" y="2" width="3" height="1" fill="#a8a8a8"/><rect x="923" y="4" width="3" height="1" fill="#a8a8a8"/><rect x="923" y="6" width="3" height="1" fill="#a8a8a8"/><rect x="923" y="8" width="3" height="1" fill="#a8a8a8"/><rect x="923" y="10" width="3" height="1" fill="#a8a8a8"/><rect x="923" y="12" width="3" height="1" fill="#a8a8a8"/><rect x="923" y="14" width="3" height="1" fill="#a8a8a8"/><rect x="923" y="16" width="3" height="1" fill="#a8a8a8"/><rect x="923" y="18" width="3" height="1" fill="#a8a8a8"/></g>
<text x="934.2" y="14.3" font-size="10" fill="#333" font-family="Liberation Sans, sans-serif" textLength="13" lengthAdjust="spacingAndGlyphs" >M1</text>
<text x="962.5" y="14.3" font-size="10" fill="#333" font-family="Liberation Sans, sans-serif" textLength="13" lengthAdjust="spacingAndGlyphs" >M5</text>
<text x="988.5" y="14.3" font-size="10" fill="#333" font-family="Liberation Sans, sans-serif" textLength="17.7" lengthAdjust="spacingAndGlyphs" >M15</text>
<text x="1016.8" y="14.3" font-size="10" fill="#333" font-family="Liberation Sans, sans-serif" textLength="17.7" lengthAdjust="spacingAndGlyphs" >M30</text>
<text x="1047.5" y="14.3" font-size="10" fill="#333" font-family="Liberation Sans, sans-serif" textLength="11.8" lengthAdjust="spacingAndGlyphs" >H1</text>
<rect x="1069" y="0" width="24" height="20" fill="#f7f7f7"/><rect x="1068" y="0" width="1" height="20" fill="#a0a0a0"/>
<text x="1074.6" y="14.3" font-size="10" fill="#333" font-family="Liberation Sans, sans-serif" textLength="13" lengthAdjust="spacingAndGlyphs" >H4</text>
<text x="1103.4" y="14.3" font-size="10" fill="#333" font-family="Liberation Sans, sans-serif" textLength="11.8" lengthAdjust="spacingAndGlyphs" >D1</text>
<text x="1130.8" y="14.3" font-size="10" fill="#333" font-family="Liberation Sans, sans-serif" textLength="14.6" lengthAdjust="spacingAndGlyphs" >W1</text>
<text x="1157.2" y="14.3" font-size="10" fill="#333" font-family="Liberation Sans, sans-serif" textLength="15.4" lengthAdjust="spacingAndGlyphs" >MN</text>
<rect x="1180" y="1" width="1" height="19" fill="#a0a0a0" shape-rendering="crispEdges"/><rect x="1181" y="1" width="1" height="19" fill="#ffffff" shape-rendering="crispEdges"/>
<path d="M1647.5 10.5 L1643 15" stroke="#2050c8" stroke-width="2.6" stroke-linecap="round"/>
<circle cx="1650.5" cy="7.3" r="4" fill="#fafcff" stroke="#2050d0" stroke-width="1.4"/>
<path d="M1673.5 7 h7 a5 5 0 0 1 0 10 h-4 l-3 2 l0.5 -2 a5 5 0 0 1 -0.5 -10 z" fill="#dde0ea" stroke="#a0a4b0" stroke-width="0.9"/>
<defs><linearGradient id="gbad" x1="0" y1="0" x2="0" y2="1"><stop offset="0" stop-color="#ec5a34"/><stop offset="1" stop-color="#d01808"/></linearGradient></defs>
<circle cx="1681.5" cy="8" r="8.2" fill="url(#gbad)"/>
<text x="1677.5" y="12.3" font-size="11" fill="#fff" font-family="Liberation Serif, serif" font-weight="bold">1</text>
</svg>
</body></html>
